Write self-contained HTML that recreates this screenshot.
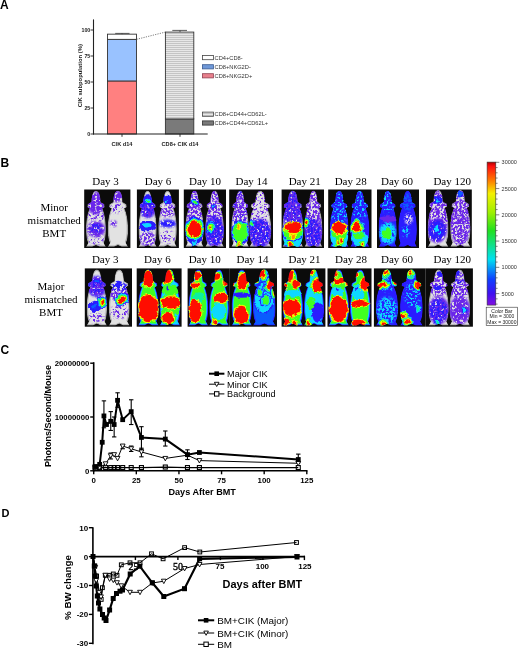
<!DOCTYPE html>
<html><head><meta charset="utf-8"><style>
html,body{margin:0;padding:0;background:#fff;width:520px;height:648px;overflow:hidden}
svg{display:block;will-change:transform}
</style></head><body>
<svg width="520" height="648" viewBox="0 0 520 648">
<defs>
<pattern id="stripes" patternUnits="userSpaceOnUse" width="4" height="2" y="0"><rect width="4" height="2" fill="#c4c4c4"/><rect width="4" height="0.8" fill="#f0f0f0"/></pattern>
<linearGradient id="cbar" x1="0" y1="0" x2="0" y2="1">
<stop offset="0" stop-color="#b00000"/><stop offset="0.03" stop-color="#ff1010"/><stop offset="0.12" stop-color="#ff7000"/><stop offset="0.22" stop-color="#f4f000"/><stop offset="0.35" stop-color="#a0f000"/><stop offset="0.48" stop-color="#20e020"/><stop offset="0.68" stop-color="#00e0f0"/><stop offset="0.82" stop-color="#1040ff"/><stop offset="0.92" stop-color="#4010f0"/><stop offset="1" stop-color="#8010e0"/>
</linearGradient>
<filter id="bl" x="-30%%" y="-30%%" width="160%%" height="160%%"><feGaussianBlur stdDeviation="0.45"/></filter>
<filter id="dsp" x="-30%%" y="-30%%" width="160%%" height="160%%">
<feTurbulence type="fractalNoise" baseFrequency="0.22" numOctaves="2" seed="7" result="t"/>
<feDisplacementMap in="SourceGraphic" in2="t" scale="5" xChannelSelector="R" yChannelSelector="G" result="d"/>
<feGaussianBlur in="d" stdDeviation="0.4"/>
</filter>
<filter id="spk" x="-10%%" y="-10%%" width="120%%" height="120%%">
<feGaussianBlur in="SourceGraphic" stdDeviation="1.2" result="b"/>
<feTurbulence type="fractalNoise" baseFrequency="0.45" numOctaves="2" seed="4" result="n"/>
<feColorMatrix in="n" type="matrix" values="0 0 0 0 0  0 0 0 0 0  0 0 0 0 0  7 0 0 0 -2.9" result="m"/>
<feComposite in="b" in2="m" operator="in"/>
</filter>
<filter id="spk2" x="-10%%" y="-10%%" width="120%%" height="120%%">
<feGaussianBlur in="SourceGraphic" stdDeviation="1.2" result="b"/>
<feTurbulence type="fractalNoise" baseFrequency="0.45" numOctaves="2" seed="9" result="n"/>
<feColorMatrix in="n" type="matrix" values="0 0 0 0 0  0 0 0 0 0  0 0 0 0 0  7 0 0 0 -3.6" result="m"/>
<feComposite in="b" in2="m" operator="in"/>
</filter>
<filter id="spk3" x="-10%%" y="-10%%" width="120%%" height="120%%">
<feGaussianBlur in="SourceGraphic" stdDeviation="1.2" result="b"/>
<feTurbulence type="fractalNoise" baseFrequency="0.4" numOctaves="2" seed="13" result="n"/>
<feColorMatrix in="n" type="matrix" values="0 0 0 0 0  0 0 0 0 0  0 0 0 0 0  7 0 0 0 -2.2" result="m"/>
<feComposite in="b" in2="m" operator="in"/>
</filter>
</defs>
<text x="0.00" y="8.70" font-family="Liberation Sans" font-size="12" font-weight="bold" text-anchor="start" fill="#000" >A</text>
<rect x="107.50" y="80.96" width="29.00" height="53.04" fill="#ff8080" stroke="#333" stroke-width="0.9" />
<rect x="107.50" y="39.36" width="29.00" height="41.60" fill="#99c2ff" stroke="#333" stroke-width="0.9" />
<rect x="107.50" y="34.16" width="29.00" height="5.20" fill="#ffffff" stroke="#333" stroke-width="0.9" />
<line x1="122.00" y1="34.16" x2="122.00" y2="33.40" stroke="#333" stroke-width="0.8" />
<line x1="115.20" y1="33.40" x2="129.50" y2="33.40" stroke="#333" stroke-width="0.8" />
<rect x="165.40" y="118.92" width="28.40" height="15.08" fill="#7a7a7a" stroke="#333" stroke-width="0.9" />
<rect x="165.40" y="32.08" width="28.40" height="86.84" fill="url(#stripes)" stroke="#333" stroke-width="0.9" />
<line x1="180.00" y1="32.08" x2="180.00" y2="30.40" stroke="#333" stroke-width="0.8" />
<line x1="172.30" y1="30.40" x2="187.00" y2="30.40" stroke="#333" stroke-width="0.8" />
<line x1="136.50" y1="39.36" x2="165.40" y2="32.08" stroke="#444" stroke-width="0.7" stroke-dasharray="1.2,1.2"/>
<line x1="93.50" y1="19.40" x2="93.50" y2="134.50" stroke="#222" stroke-width="1.1" />
<line x1="93.00" y1="134.00" x2="207.70" y2="134.00" stroke="#222" stroke-width="1.1" />
<line x1="90.50" y1="134.00" x2="93.50" y2="134.00" stroke="#222" stroke-width="0.9" />
<text x="90.30" y="135.90" font-family="Liberation Sans" font-size="5.3" font-weight="bold" text-anchor="end" fill="#222" >0</text>
<line x1="90.50" y1="108.00" x2="93.50" y2="108.00" stroke="#222" stroke-width="0.9" />
<text x="90.30" y="109.90" font-family="Liberation Sans" font-size="5.3" font-weight="bold" text-anchor="end" fill="#222" >25</text>
<line x1="90.50" y1="82.00" x2="93.50" y2="82.00" stroke="#222" stroke-width="0.9" />
<text x="90.30" y="83.90" font-family="Liberation Sans" font-size="5.3" font-weight="bold" text-anchor="end" fill="#222" >50</text>
<line x1="90.50" y1="56.00" x2="93.50" y2="56.00" stroke="#222" stroke-width="0.9" />
<text x="90.30" y="57.90" font-family="Liberation Sans" font-size="5.3" font-weight="bold" text-anchor="end" fill="#222" >75</text>
<line x1="90.50" y1="30.00" x2="93.50" y2="30.00" stroke="#222" stroke-width="0.9" />
<text x="90.30" y="31.90" font-family="Liberation Sans" font-size="5.3" font-weight="bold" text-anchor="end" fill="#222" >100</text>
<line x1="122.00" y1="134.00" x2="122.00" y2="136.80" stroke="#222" stroke-width="0.9" />
<line x1="180.00" y1="134.00" x2="180.00" y2="136.80" stroke="#222" stroke-width="0.9" />
<text x="122.00" y="145.60" font-family="Liberation Sans" font-size="5.6" font-weight="bold" text-anchor="middle" fill="#222" >CIK d14</text>
<text x="180.00" y="145.60" font-family="Liberation Sans" font-size="5.6" font-weight="bold" text-anchor="middle" fill="#222" >CD8+ CIK d14</text>
<text x="0.00" y="0.00" font-family="Liberation Sans" font-size="5.9" font-weight="bold" text-anchor="middle" fill="#222" transform="translate(81.7,75.7) rotate(-90)">CIK subpopulation (%)</text>
<rect x="202.40" y="55.50" width="11.00" height="4.20" fill="#ffffff" stroke="#444" stroke-width="0.8" />
<text x="214.60" y="59.60" font-family="Liberation Sans" font-size="5.7" font-weight="normal" text-anchor="start" fill="#333" >CD4+CD8-</text>
<rect x="202.40" y="64.70" width="11.00" height="4.20" fill="#6f98d8" stroke="#3a5a90" stroke-width="0.8" />
<text x="214.60" y="68.80" font-family="Liberation Sans" font-size="5.7" font-weight="normal" text-anchor="start" fill="#333" >CD8+NKG2D-</text>
<rect x="202.40" y="73.70" width="11.00" height="4.20" fill="#e8808c" stroke="#904050" stroke-width="0.8" />
<text x="214.60" y="77.80" font-family="Liberation Sans" font-size="5.7" font-weight="normal" text-anchor="start" fill="#333" >CD8+NKG2D+</text>
<rect x="202.40" y="112.10" width="11.00" height="4.20" fill="url(#stripes)" stroke="#444" stroke-width="0.8" />
<text x="214.60" y="116.20" font-family="Liberation Sans" font-size="5.7" font-weight="normal" text-anchor="start" fill="#333" >CD8+CD44+CD62L-</text>
<rect x="202.40" y="120.90" width="11.00" height="4.20" fill="#7a7a7a" stroke="#333" stroke-width="0.8" />
<text x="214.60" y="125.00" font-family="Liberation Sans" font-size="5.7" font-weight="normal" text-anchor="start" fill="#333" >CD8+CD44+CD62L+</text>
<text x="0.50" y="167.30" font-family="Liberation Sans" font-size="12" font-weight="bold" text-anchor="start" fill="#000" >B</text>
<text x="54.20" y="211.20" font-family="Liberation Serif" font-size="11" font-weight="normal" text-anchor="middle" fill="#000" >Minor</text>
<text x="54.20" y="224.20" font-family="Liberation Serif" font-size="11" font-weight="normal" text-anchor="middle" fill="#000" >mismatched</text>
<text x="54.20" y="237.20" font-family="Liberation Serif" font-size="11" font-weight="normal" text-anchor="middle" fill="#000" >BMT</text>
<text x="51.00" y="290.00" font-family="Liberation Serif" font-size="11" font-weight="normal" text-anchor="middle" fill="#000" >Major</text>
<text x="51.00" y="303.00" font-family="Liberation Serif" font-size="11" font-weight="normal" text-anchor="middle" fill="#000" >mismatched</text>
<text x="51.00" y="316.00" font-family="Liberation Serif" font-size="11" font-weight="normal" text-anchor="middle" fill="#000" >BMT</text>
<text x="105.50" y="184.90" font-family="Liberation Serif" font-size="11" font-weight="normal" text-anchor="middle" fill="#000" >Day 3</text>
<rect x="84.20" y="189.50" width="46.20" height="58.50" fill="#0b0b0b"/>
<clipPath id="c000"><path d="M 95.98 190.67 C 99.31 190.67 100.35 196.34 100.55 202.02 L 104.30 204.29 L 104.71 207.13 L 102.22 208.26 C 104.30 212.23 105.96 219.04 105.96 229.26 C 105.96 236.07 105.13 240.61 103.88 242.88 L 105.96 246.85 L 99.72 246.85 L 95.98 245.15 L 92.24 246.85 L 86.00 246.85 L 88.08 242.88 C 86.83 240.61 86.00 236.07 86.00 229.26 C 86.00 219.04 87.66 212.23 89.74 208.26 L 87.25 207.13 L 87.66 204.29 L 91.41 202.02 C 91.62 196.34 92.65 190.67 95.98 190.67 Z"/></clipPath>
<g clip-path="url(#c000)">
<path fill="#a8a8a8" d="M 95.98 190.67 C 99.31 190.67 100.35 196.34 100.55 202.02 L 104.30 204.29 L 104.71 207.13 L 102.22 208.26 C 104.30 212.23 105.96 219.04 105.96 229.26 C 105.96 236.07 105.13 240.61 103.88 242.88 L 105.96 246.85 L 99.72 246.85 L 95.98 245.15 L 92.24 246.85 L 86.00 246.85 L 88.08 242.88 C 86.83 240.61 86.00 236.07 86.00 229.26 C 86.00 219.04 87.66 212.23 89.74 208.26 L 87.25 207.13 L 87.66 204.29 L 91.41 202.02 C 91.62 196.34 92.65 190.67 95.98 190.67 Z"/>
<path fill="#e2e2e2" d="M 95.98 192.07 C 98.86 192.07 99.76 197.46 99.94 202.86 L 103.18 205.02 L 103.54 207.71 L 101.38 208.79 C 103.18 212.57 104.62 219.04 104.62 228.75 C 104.62 235.23 103.90 239.54 102.82 241.70 L 104.62 245.48 L 99.22 245.48 L 95.98 243.86 L 92.74 245.48 L 87.35 245.48 L 89.14 241.70 C 88.07 239.54 87.35 235.23 87.35 228.75 C 87.35 219.04 88.79 212.57 90.58 208.79 L 88.43 207.71 L 88.79 205.02 L 92.02 202.86 C 92.20 197.46 93.10 192.07 95.98 192.07 Z"/>
<ellipse cx="95.98" cy="203.15" rx="8.73" ry="11.35" fill="#6a28ea" filter="url(#spk3)"/>
<ellipse cx="95.98" cy="229.26" rx="9.36" ry="7.94" fill="#6a28ea" filter="url(#spk3)"/>
<ellipse cx="95.98" cy="228.12" rx="6.24" ry="4.54" fill="#2a1cff" filter="url(#spk)"/>
<ellipse cx="95.98" cy="216.21" rx="9.36" ry="5.67" fill="#6a28ea" filter="url(#spk2)"/>
<ellipse cx="95.98" cy="238.90" rx="8.32" ry="5.67" fill="#6a28ea" filter="url(#spk2)"/>
</g>
<clipPath id="c001"><path d="M 117.93 190.67 C 121.33 190.67 122.39 196.34 122.60 202.02 L 126.43 204.29 L 126.85 207.13 L 124.30 208.26 C 126.43 212.23 128.13 219.04 128.13 229.26 C 128.13 236.07 127.28 240.61 126.00 242.88 L 128.13 246.85 L 121.75 246.85 L 117.93 245.15 L 114.10 246.85 L 107.73 246.85 L 109.85 242.88 C 108.58 240.61 107.73 236.07 107.73 229.26 C 107.73 219.04 109.43 212.23 111.55 208.26 L 109.00 207.13 L 109.43 204.29 L 113.25 202.02 C 113.46 196.34 114.53 190.67 117.93 190.67 Z"/></clipPath>
<g clip-path="url(#c001)">
<path fill="#a8a8a8" d="M 117.93 190.67 C 121.33 190.67 122.39 196.34 122.60 202.02 L 126.43 204.29 L 126.85 207.13 L 124.30 208.26 C 126.43 212.23 128.13 219.04 128.13 229.26 C 128.13 236.07 127.28 240.61 126.00 242.88 L 128.13 246.85 L 121.75 246.85 L 117.93 245.15 L 114.10 246.85 L 107.73 246.85 L 109.85 242.88 C 108.58 240.61 107.73 236.07 107.73 229.26 C 107.73 219.04 109.43 212.23 111.55 208.26 L 109.00 207.13 L 109.43 204.29 L 113.25 202.02 C 113.46 196.34 114.53 190.67 117.93 190.67 Z"/>
<path fill="#e2e2e2" d="M 117.93 192.07 C 120.88 192.07 121.80 197.46 121.99 202.86 L 125.31 205.02 L 125.68 207.71 L 123.46 208.79 C 125.31 212.57 126.78 219.04 126.78 228.75 C 126.78 235.23 126.04 239.54 124.94 241.70 L 126.78 245.48 L 121.25 245.48 L 117.93 243.86 L 114.60 245.48 L 109.07 245.48 L 110.91 241.70 C 109.81 239.54 109.07 235.23 109.07 228.75 C 109.07 219.04 110.55 212.57 112.39 208.79 L 110.18 207.71 L 110.55 205.02 L 113.87 202.86 C 114.05 197.46 114.97 192.07 117.93 192.07 Z"/>
<ellipse cx="116.86" cy="196.34" rx="6.38" ry="5.67" fill="#6a28ea" filter="url(#spk3)"/>
<ellipse cx="115.80" cy="207.69" rx="7.44" ry="5.67" fill="#6a28ea" filter="url(#spk2)"/>
<ellipse cx="113.68" cy="223.58" rx="3.19" ry="3.40" fill="#6a28ea" filter="url(#spk)"/>
</g>
<text x="158.00" y="184.90" font-family="Liberation Serif" font-size="11" font-weight="normal" text-anchor="middle" fill="#000" >Day 6</text>
<rect x="136.90" y="189.50" width="42.00" height="58.50" fill="#0b0b0b"/>
<clipPath id="c010"><path d="M 147.61 190.67 C 150.63 190.67 151.58 196.34 151.77 202.02 L 155.17 204.29 L 155.55 207.13 L 153.28 208.26 C 155.17 212.23 156.68 219.04 156.68 229.26 C 156.68 236.07 155.93 240.61 154.79 242.88 L 156.68 246.85 L 151.01 246.85 L 147.61 245.15 L 144.21 246.85 L 138.54 246.85 L 140.43 242.88 C 139.29 240.61 138.54 236.07 138.54 229.26 C 138.54 219.04 140.05 212.23 141.94 208.26 L 139.67 207.13 L 140.05 204.29 L 143.45 202.02 C 143.64 196.34 144.59 190.67 147.61 190.67 Z"/></clipPath>
<g clip-path="url(#c010)">
<path fill="#a8a8a8" d="M 147.61 190.67 C 150.63 190.67 151.58 196.34 151.77 202.02 L 155.17 204.29 L 155.55 207.13 L 153.28 208.26 C 155.17 212.23 156.68 219.04 156.68 229.26 C 156.68 236.07 155.93 240.61 154.79 242.88 L 156.68 246.85 L 151.01 246.85 L 147.61 245.15 L 144.21 246.85 L 138.54 246.85 L 140.43 242.88 C 139.29 240.61 138.54 236.07 138.54 229.26 C 138.54 219.04 140.05 212.23 141.94 208.26 L 139.67 207.13 L 140.05 204.29 L 143.45 202.02 C 143.64 196.34 144.59 190.67 147.61 190.67 Z"/>
<path fill="#e2e2e2" d="M 147.61 192.07 C 150.19 192.07 150.99 197.46 151.15 202.86 L 154.05 205.02 L 154.37 207.71 L 152.44 208.79 C 154.05 212.57 155.34 219.04 155.34 228.75 C 155.34 235.23 154.69 239.54 153.73 241.70 L 155.34 245.48 L 150.51 245.48 L 147.61 243.86 L 144.71 245.48 L 139.88 245.48 L 141.49 241.70 C 140.53 239.54 139.88 235.23 139.88 228.75 C 139.88 219.04 141.17 212.57 142.78 208.79 L 140.85 207.71 L 141.17 205.02 L 144.07 202.86 C 144.23 197.46 145.03 192.07 147.61 192.07 Z"/>
<ellipse cx="147.61" cy="206.56" rx="8.50" ry="11.35" fill="#2a1cff" filter="url(#spk3)"/>
<ellipse cx="147.61" cy="206.56" rx="8.50" ry="11.35" fill="#6a28ea" filter="url(#spk)"/>
<ellipse cx="147.61" cy="238.90" rx="8.50" ry="7.38" fill="#6a28ea" filter="url(#spk)"/>
<g filter="url(#dsp)"><g><ellipse cx="147.61" cy="225.85" rx="8.32" ry="5.67" fill="#2a1cff"/></g></g>
<g filter="url(#dsp)"><g><ellipse cx="146.66" cy="225.28" rx="4.78" ry="3.27" fill="#2a1cff"/><ellipse cx="146.66" cy="225.28" rx="3.78" ry="2.27" fill="#10d8ff"/></g></g>
<g filter="url(#dsp)"><g><ellipse cx="147.61" cy="200.32" rx="5.29" ry="5.11" fill="#2a1cff"/></g></g>
<g filter="url(#dsp)"><g><ellipse cx="147.61" cy="200.88" rx="3.89" ry="3.13" fill="#2a1cff"/><ellipse cx="147.61" cy="200.88" rx="2.89" ry="2.13" fill="#10d8ff"/><ellipse cx="147.61" cy="200.88" rx="1.89" ry="1.13" fill="#40ff20"/></g></g>
</g>
<clipPath id="c011"><path d="M 167.56 190.67 C 170.65 190.67 171.62 196.34 171.81 202.02 L 175.29 204.29 L 175.67 207.13 L 173.36 208.26 C 175.29 212.23 176.83 219.04 176.83 229.26 C 176.83 236.07 176.06 240.61 174.90 242.88 L 176.83 246.85 L 171.04 246.85 L 167.56 245.15 L 164.08 246.85 L 158.29 246.85 L 160.22 242.88 C 159.06 240.61 158.29 236.07 158.29 229.26 C 158.29 219.04 159.83 212.23 161.76 208.26 L 159.45 207.13 L 159.83 204.29 L 163.31 202.02 C 163.50 196.34 164.47 190.67 167.56 190.67 Z"/></clipPath>
<g clip-path="url(#c011)">
<path fill="#a8a8a8" d="M 167.56 190.67 C 170.65 190.67 171.62 196.34 171.81 202.02 L 175.29 204.29 L 175.67 207.13 L 173.36 208.26 C 175.29 212.23 176.83 219.04 176.83 229.26 C 176.83 236.07 176.06 240.61 174.90 242.88 L 176.83 246.85 L 171.04 246.85 L 167.56 245.15 L 164.08 246.85 L 158.29 246.85 L 160.22 242.88 C 159.06 240.61 158.29 236.07 158.29 229.26 C 158.29 219.04 159.83 212.23 161.76 208.26 L 159.45 207.13 L 159.83 204.29 L 163.31 202.02 C 163.50 196.34 164.47 190.67 167.56 190.67 Z"/>
<path fill="#e2e2e2" d="M 167.56 192.07 C 170.20 192.07 171.03 197.46 171.19 202.86 L 174.17 205.02 L 174.50 207.71 L 172.52 208.79 C 174.17 212.57 175.49 219.04 175.49 228.75 C 175.49 235.23 174.83 239.54 173.84 241.70 L 175.49 245.48 L 170.53 245.48 L 167.56 243.86 L 164.59 245.48 L 159.63 245.48 L 161.28 241.70 C 160.29 239.54 159.63 235.23 159.63 228.75 C 159.63 219.04 160.95 212.57 162.60 208.79 L 160.62 207.71 L 160.95 205.02 L 163.93 202.86 C 164.09 197.46 164.92 192.07 167.56 192.07 Z"/>
<ellipse cx="167.56" cy="210.53" rx="8.69" ry="6.81" fill="#6a28ea" filter="url(#spk)"/>
<ellipse cx="167.56" cy="223.58" rx="8.69" ry="3.97" fill="#2a1cff" filter="url(#spk3)"/>
<ellipse cx="167.56" cy="237.20" rx="7.73" ry="6.81" fill="#6a28ea" filter="url(#spk2)"/>
<g filter="url(#dsp)"><g><ellipse cx="167.56" cy="199.18" rx="4.83" ry="4.54" fill="#2a1cff"/></g></g>
<g filter="url(#dsp)"><g><ellipse cx="166.59" cy="200.88" rx="2.16" ry="2.13" fill="#2a1cff"/><ellipse cx="166.59" cy="200.88" rx="1.16" ry="1.13" fill="#10d8ff"/></g></g>
</g>
<text x="205.00" y="184.90" font-family="Liberation Serif" font-size="11" font-weight="normal" text-anchor="middle" fill="#000" >Day 10</text>
<rect x="183.80" y="189.50" width="42.20" height="58.50" fill="#0b0b0b"/>
<clipPath id="c020"><path d="M 194.56 190.67 C 197.60 190.67 198.55 196.34 198.74 202.02 L 202.16 204.29 L 202.54 207.13 L 200.26 208.26 C 202.16 212.23 203.68 219.04 203.68 229.26 C 203.68 236.07 202.92 240.61 201.78 242.88 L 203.68 246.85 L 197.98 246.85 L 194.56 245.15 L 191.14 246.85 L 185.45 246.85 L 187.34 242.88 C 186.21 240.61 185.45 236.07 185.45 229.26 C 185.45 219.04 186.97 212.23 188.86 208.26 L 186.59 207.13 L 186.97 204.29 L 190.38 202.02 C 190.57 196.34 191.52 190.67 194.56 190.67 Z"/></clipPath>
<g clip-path="url(#c020)">
<path fill="#a8a8a8" d="M 194.56 190.67 C 197.60 190.67 198.55 196.34 198.74 202.02 L 202.16 204.29 L 202.54 207.13 L 200.26 208.26 C 202.16 212.23 203.68 219.04 203.68 229.26 C 203.68 236.07 202.92 240.61 201.78 242.88 L 203.68 246.85 L 197.98 246.85 L 194.56 245.15 L 191.14 246.85 L 185.45 246.85 L 187.34 242.88 C 186.21 240.61 185.45 236.07 185.45 229.26 C 185.45 219.04 186.97 212.23 188.86 208.26 L 186.59 207.13 L 186.97 204.29 L 190.38 202.02 C 190.57 196.34 191.52 190.67 194.56 190.67 Z"/>
<path fill="#e2e2e2" d="M 194.56 192.07 C 197.15 192.07 197.96 197.46 198.12 202.86 L 201.04 205.02 L 201.36 207.71 L 199.42 208.79 C 201.04 212.57 202.33 219.04 202.33 228.75 C 202.33 235.23 201.68 239.54 200.71 241.70 L 202.33 245.48 L 197.48 245.48 L 194.56 243.86 L 191.65 245.48 L 186.79 245.48 L 188.41 241.70 C 187.44 239.54 186.79 235.23 186.79 228.75 C 186.79 219.04 188.09 212.57 189.70 208.79 L 187.76 207.71 L 188.09 205.02 L 191.00 202.86 C 191.16 197.46 191.97 192.07 194.56 192.07 Z"/>
<ellipse cx="194.56" cy="207.69" rx="9.49" ry="18.16" fill="#6a28ea" filter="url(#spk)"/>
<ellipse cx="194.56" cy="202.02" rx="5.70" ry="5.67" fill="#2a1cff" filter="url(#spk2)"/>
<g filter="url(#dsp)"><g><ellipse cx="194.56" cy="202.02" rx="3.80" ry="2.84" fill="#2a1cff"/></g></g>
<g filter="url(#dsp)"><g><ellipse cx="194.56" cy="202.02" rx="3.90" ry="3.13" fill="#2a1cff"/><ellipse cx="194.56" cy="202.02" rx="2.90" ry="2.13" fill="#10d8ff"/><ellipse cx="194.56" cy="202.02" rx="1.90" ry="1.13" fill="#40ff20"/></g></g>
<g filter="url(#dsp)"><g><ellipse cx="194.56" cy="230.39" rx="9.49" ry="14.19" fill="#2a1cff"/></g></g>
<g filter="url(#dsp)"><g><ellipse cx="194.56" cy="241.74" rx="3.28" ry="5.54" fill="#2a1cff"/><ellipse cx="194.56" cy="241.74" rx="2.28" ry="4.54" fill="#10d8ff"/></g></g>
<g filter="url(#dsp)"><g><ellipse cx="194.56" cy="229.26" rx="10.84" ry="11.94" fill="#2a1cff"/><ellipse cx="194.56" cy="229.26" rx="9.84" ry="10.94" fill="#10d8ff"/><ellipse cx="194.56" cy="229.26" rx="8.84" ry="9.94" fill="#40ff20"/><ellipse cx="194.56" cy="229.26" rx="7.84" ry="8.94" fill="#f0ff00"/><ellipse cx="194.56" cy="229.26" rx="6.84" ry="7.94" fill="#ff1000"/></g></g>
</g>
<clipPath id="c021"><path d="M 214.61 190.67 C 217.71 190.67 218.68 196.34 218.88 202.02 L 222.37 204.29 L 222.76 207.13 L 220.43 208.26 C 222.37 212.23 223.92 219.04 223.92 229.26 C 223.92 236.07 223.15 240.61 221.98 242.88 L 223.92 246.85 L 218.10 246.85 L 214.61 245.15 L 211.11 246.85 L 205.29 246.85 L 207.23 242.88 C 206.06 240.61 205.29 236.07 205.29 229.26 C 205.29 219.04 206.84 212.23 208.78 208.26 L 206.45 207.13 L 206.84 204.29 L 210.34 202.02 C 210.53 196.34 211.50 190.67 214.61 190.67 Z"/></clipPath>
<g clip-path="url(#c021)">
<path fill="#a8a8a8" d="M 214.61 190.67 C 217.71 190.67 218.68 196.34 218.88 202.02 L 222.37 204.29 L 222.76 207.13 L 220.43 208.26 C 222.37 212.23 223.92 219.04 223.92 229.26 C 223.92 236.07 223.15 240.61 221.98 242.88 L 223.92 246.85 L 218.10 246.85 L 214.61 245.15 L 211.11 246.85 L 205.29 246.85 L 207.23 242.88 C 206.06 240.61 205.29 236.07 205.29 229.26 C 205.29 219.04 206.84 212.23 208.78 208.26 L 206.45 207.13 L 206.84 204.29 L 210.34 202.02 C 210.53 196.34 211.50 190.67 214.61 190.67 Z"/>
<path fill="#e2e2e2" d="M 214.61 192.07 C 217.26 192.07 218.09 197.46 218.26 202.86 L 221.25 205.02 L 221.58 207.71 L 219.59 208.79 C 221.25 212.57 222.58 219.04 222.58 228.75 C 222.58 235.23 221.92 239.54 220.92 241.70 L 222.58 245.48 L 217.60 245.48 L 214.61 243.86 L 211.62 245.48 L 206.63 245.48 L 208.29 241.70 C 207.30 239.54 206.63 235.23 206.63 228.75 C 206.63 219.04 207.96 212.57 209.62 208.79 L 207.63 207.71 L 207.96 205.02 L 210.95 202.86 C 211.12 197.46 211.95 192.07 214.61 192.07 Z"/>
<ellipse cx="214.61" cy="207.69" rx="9.71" ry="18.16" fill="#6a28ea" filter="url(#spk)"/>
<ellipse cx="214.61" cy="231.53" rx="9.71" ry="15.32" fill="#6a28ea" filter="url(#spk3)"/>
<ellipse cx="214.61" cy="231.53" rx="9.71" ry="15.32" fill="#2a1cff" filter="url(#spk)"/>
<g filter="url(#dsp)"><g><ellipse cx="213.64" cy="206.56" rx="2.16" ry="2.13" fill="#2a1cff"/><ellipse cx="213.64" cy="206.56" rx="1.16" ry="1.13" fill="#10d8ff"/></g></g>
<g filter="url(#dsp)"><g><ellipse cx="210.72" cy="226.99" rx="5.33" ry="6.97" fill="#2a1cff"/><ellipse cx="210.72" cy="226.99" rx="4.33" ry="5.97" fill="#10d8ff"/><ellipse cx="210.72" cy="226.99" rx="3.33" ry="4.97" fill="#40ff20"/><ellipse cx="210.72" cy="226.99" rx="2.33" ry="3.97" fill="#f0ff00"/></g></g>
<g filter="url(#dsp)"><g><ellipse cx="210.34" cy="227.55" rx="4.97" ry="5.70" fill="#2a1cff"/><ellipse cx="210.34" cy="227.55" rx="3.97" ry="4.70" fill="#10d8ff"/><ellipse cx="210.34" cy="227.55" rx="2.97" ry="3.70" fill="#40ff20"/><ellipse cx="210.34" cy="227.55" rx="1.97" ry="2.70" fill="#f0ff00"/><ellipse cx="210.34" cy="227.55" rx="0.97" ry="1.70" fill="#ff1000"/></g></g>
</g>
<text x="251.50" y="184.90" font-family="Liberation Serif" font-size="11" font-weight="normal" text-anchor="middle" fill="#000" >Day 14</text>
<rect x="229.20" y="189.50" width="43.80" height="58.50" fill="#0b0b0b"/>
<clipPath id="c030"><path d="M 240.15 190.67 C 243.09 190.67 244.01 196.34 244.20 202.02 L 247.51 204.29 L 247.88 207.13 L 245.67 208.26 C 247.51 212.23 248.98 219.04 248.98 229.26 C 248.98 236.07 248.24 240.61 247.14 242.88 L 248.98 246.85 L 243.46 246.85 L 240.15 245.15 L 236.84 246.85 L 231.32 246.85 L 233.16 242.88 C 232.06 240.61 231.32 236.07 231.32 229.26 C 231.32 219.04 232.79 212.23 234.63 208.26 L 232.42 207.13 L 232.79 204.29 L 236.10 202.02 C 236.29 196.34 237.21 190.67 240.15 190.67 Z"/></clipPath>
<g clip-path="url(#c030)">
<path fill="#a8a8a8" d="M 240.15 190.67 C 243.09 190.67 244.01 196.34 244.20 202.02 L 247.51 204.29 L 247.88 207.13 L 245.67 208.26 C 247.51 212.23 248.98 219.04 248.98 229.26 C 248.98 236.07 248.24 240.61 247.14 242.88 L 248.98 246.85 L 243.46 246.85 L 240.15 245.15 L 236.84 246.85 L 231.32 246.85 L 233.16 242.88 C 232.06 240.61 231.32 236.07 231.32 229.26 C 231.32 219.04 232.79 212.23 234.63 208.26 L 232.42 207.13 L 232.79 204.29 L 236.10 202.02 C 236.29 196.34 237.21 190.67 240.15 190.67 Z"/>
<path fill="#e2e2e2" d="M 240.15 192.07 C 242.65 192.07 243.43 197.46 243.58 202.86 L 246.39 205.02 L 246.70 207.71 L 244.83 208.79 C 246.39 212.57 247.64 219.04 247.64 228.75 C 247.64 235.23 247.01 239.54 246.08 241.70 L 247.64 245.48 L 242.96 245.48 L 240.15 243.86 L 237.34 245.48 L 232.66 245.48 L 234.22 241.70 C 233.29 239.54 232.66 235.23 232.66 228.75 C 232.66 219.04 233.91 212.57 235.47 208.79 L 233.60 207.71 L 233.91 205.02 L 236.72 202.86 C 236.87 197.46 237.65 192.07 240.15 192.07 Z"/>
<ellipse cx="240.15" cy="210.53" rx="9.20" ry="19.86" fill="#2a1cff" filter="url(#spk2)"/>
<ellipse cx="240.15" cy="207.69" rx="9.20" ry="17.02" fill="#6a28ea" filter="url(#spk)"/>
<g filter="url(#dsp)"><g><ellipse cx="240.15" cy="232.66" rx="9.20" ry="12.48" fill="#2a1cff"/></g></g>
<g filter="url(#dsp)"><g><ellipse cx="240.15" cy="232.09" rx="9.73" ry="11.65" fill="#2a1cff"/><ellipse cx="240.15" cy="232.09" rx="8.73" ry="10.65" fill="#10d8ff"/><ellipse cx="240.15" cy="232.09" rx="7.73" ry="9.65" fill="#40ff20"/></g></g>
<g filter="url(#dsp)"><g><ellipse cx="239.23" cy="226.99" rx="2.10" ry="2.70" fill="#f0ff00"/><ellipse cx="239.23" cy="226.99" rx="1.10" ry="1.70" fill="#ff9000"/></g></g>
<g filter="url(#dsp)"><g><ellipse cx="239.23" cy="243.44" rx="2.92" ry="3.70" fill="#40ff20"/><ellipse cx="239.23" cy="243.44" rx="1.92" ry="2.70" fill="#f0ff00"/><ellipse cx="239.23" cy="243.44" rx="0.92" ry="1.70" fill="#ff9000"/></g></g>
</g>
<clipPath id="c031"><path d="M 260.30 190.67 C 263.94 190.67 265.08 196.34 265.31 202.02 L 269.41 204.29 L 269.86 207.13 L 267.13 208.26 C 269.41 212.23 271.23 219.04 271.23 229.26 C 271.23 236.07 270.32 240.61 268.95 242.88 L 271.23 246.85 L 264.40 246.85 L 260.30 245.15 L 256.20 246.85 L 249.37 246.85 L 251.64 242.88 C 250.28 240.61 249.37 236.07 249.37 229.26 C 249.37 219.04 251.19 212.23 253.47 208.26 L 250.73 207.13 L 251.19 204.29 L 255.29 202.02 C 255.52 196.34 256.65 190.67 260.30 190.67 Z"/></clipPath>
<g clip-path="url(#c031)">
<path fill="#a8a8a8" d="M 260.30 190.67 C 263.94 190.67 265.08 196.34 265.31 202.02 L 269.41 204.29 L 269.86 207.13 L 267.13 208.26 C 269.41 212.23 271.23 219.04 271.23 229.26 C 271.23 236.07 270.32 240.61 268.95 242.88 L 271.23 246.85 L 264.40 246.85 L 260.30 245.15 L 256.20 246.85 L 249.37 246.85 L 251.64 242.88 C 250.28 240.61 249.37 236.07 249.37 229.26 C 249.37 219.04 251.19 212.23 253.47 208.26 L 250.73 207.13 L 251.19 204.29 L 255.29 202.02 C 255.52 196.34 256.65 190.67 260.30 190.67 Z"/>
<path fill="#e2e2e2" d="M 260.30 192.07 C 263.49 192.07 264.49 197.46 264.69 202.86 L 268.29 205.02 L 268.69 207.71 L 266.29 208.79 C 268.29 212.57 269.89 219.04 269.89 228.75 C 269.89 235.23 269.09 239.54 267.89 241.70 L 269.89 245.48 L 263.89 245.48 L 260.30 243.86 L 256.70 245.48 L 250.71 245.48 L 252.71 241.70 C 251.51 239.54 250.71 235.23 250.71 228.75 C 250.71 219.04 252.31 212.57 254.31 208.79 L 251.91 207.71 L 252.31 205.02 L 255.90 202.86 C 256.10 197.46 257.10 192.07 260.30 192.07 Z"/>
<ellipse cx="260.30" cy="207.69" rx="11.39" ry="17.02" fill="#6a28ea" filter="url(#spk2)"/>
<ellipse cx="260.30" cy="233.23" rx="11.39" ry="14.19" fill="#6a28ea" filter="url(#spk3)"/>
<ellipse cx="260.30" cy="233.23" rx="11.39" ry="14.19" fill="#2a1cff" filter="url(#spk)"/>
<g filter="url(#dsp)"><g><ellipse cx="251.64" cy="223.58" rx="2.28" ry="3.97" fill="#2a1cff"/></g></g>
<g filter="url(#dsp)"><g><ellipse cx="251.64" cy="223.58" rx="3.37" ry="4.27" fill="#2a1cff"/><ellipse cx="251.64" cy="223.58" rx="2.37" ry="3.27" fill="#10d8ff"/><ellipse cx="251.64" cy="223.58" rx="1.37" ry="2.27" fill="#40ff20"/></g></g>
</g>
<text x="304.70" y="184.90" font-family="Liberation Serif" font-size="11" font-weight="normal" text-anchor="middle" fill="#000" >Day 21</text>
<rect x="281.60" y="189.50" width="42.40" height="58.50" fill="#0b0b0b"/>
<clipPath id="c040"><path d="M 292.84 190.67 C 296.30 190.67 297.38 196.34 297.59 202.02 L 301.49 204.29 L 301.92 207.13 L 299.32 208.26 C 301.49 212.23 303.22 219.04 303.22 229.26 C 303.22 236.07 302.35 240.61 301.05 242.88 L 303.22 246.85 L 296.73 246.85 L 292.84 245.15 L 288.94 246.85 L 282.46 246.85 L 284.62 242.88 C 283.32 240.61 282.46 236.07 282.46 229.26 C 282.46 219.04 284.19 212.23 286.35 208.26 L 283.75 207.13 L 284.19 204.29 L 288.08 202.02 C 288.29 196.34 289.38 190.67 292.84 190.67 Z"/></clipPath>
<g clip-path="url(#c040)">
<path fill="#a8a8a8" d="M 292.84 190.67 C 296.30 190.67 297.38 196.34 297.59 202.02 L 301.49 204.29 L 301.92 207.13 L 299.32 208.26 C 301.49 212.23 303.22 219.04 303.22 229.26 C 303.22 236.07 302.35 240.61 301.05 242.88 L 303.22 246.85 L 296.73 246.85 L 292.84 245.15 L 288.94 246.85 L 282.46 246.85 L 284.62 242.88 C 283.32 240.61 282.46 236.07 282.46 229.26 C 282.46 219.04 284.19 212.23 286.35 208.26 L 283.75 207.13 L 284.19 204.29 L 288.08 202.02 C 288.29 196.34 289.38 190.67 292.84 190.67 Z"/>
<path fill="#e2e2e2" d="M 292.84 192.07 C 295.85 192.07 296.79 197.46 296.98 202.86 L 300.37 205.02 L 300.74 207.71 L 298.48 208.79 C 300.37 212.57 301.87 219.04 301.87 228.75 C 301.87 235.23 301.12 239.54 299.99 241.70 L 301.87 245.48 L 296.22 245.48 L 292.84 243.86 L 289.45 245.48 L 283.80 245.48 L 285.68 241.70 C 284.55 239.54 283.80 235.23 283.80 228.75 C 283.80 219.04 285.31 212.57 287.19 208.79 L 284.93 207.71 L 285.31 205.02 L 288.69 202.86 C 288.88 197.46 289.82 192.07 292.84 192.07 Z"/>
<ellipse cx="292.84" cy="210.53" rx="10.81" ry="19.86" fill="#2a1cff" filter="url(#spk3)"/>
<ellipse cx="292.84" cy="210.53" rx="10.81" ry="19.86" fill="#6a28ea" filter="url(#spk)"/>
<g filter="url(#dsp)"><g><ellipse cx="292.84" cy="236.07" rx="11.81" ry="13.48" fill="#2a1cff"/><ellipse cx="292.84" cy="236.07" rx="10.81" ry="12.48" fill="#10d8ff"/></g></g>
<g filter="url(#dsp)"><g><ellipse cx="292.84" cy="231.53" rx="11.95" ry="9.94" fill="#2a1cff"/><ellipse cx="292.84" cy="231.53" rx="10.95" ry="8.94" fill="#10d8ff"/><ellipse cx="292.84" cy="231.53" rx="9.95" ry="7.94" fill="#40ff20"/></g></g>
<g filter="url(#dsp)"><g><ellipse cx="292.84" cy="227.55" rx="9.22" ry="6.67" fill="#f0ff00"/><ellipse cx="292.84" cy="227.55" rx="8.22" ry="5.67" fill="#ff1000"/></g></g>
<g filter="url(#dsp)"><g><ellipse cx="292.84" cy="236.07" rx="3.16" ry="3.27" fill="#f0ff00"/><ellipse cx="292.84" cy="236.07" rx="2.16" ry="2.27" fill="#ff9000"/></g></g>
<g filter="url(#dsp)"><g><ellipse cx="290.67" cy="244.58" rx="3.08" ry="3.70" fill="#40ff20"/><ellipse cx="290.67" cy="244.58" rx="2.08" ry="2.70" fill="#f0ff00"/><ellipse cx="290.67" cy="244.58" rx="1.08" ry="1.70" fill="#ff1000"/></g></g>
</g>
<clipPath id="c041"><path d="M 313.40 190.67 C 316.38 190.67 317.32 196.34 317.50 202.02 L 320.86 204.29 L 321.24 207.13 L 319.00 208.26 C 320.86 212.23 322.35 219.04 322.35 229.26 C 322.35 236.07 321.61 240.61 320.49 242.88 L 322.35 246.85 L 316.76 246.85 L 313.40 245.15 L 310.04 246.85 L 304.45 246.85 L 306.31 242.88 C 305.19 240.61 304.45 236.07 304.45 229.26 C 304.45 219.04 305.94 212.23 307.80 208.26 L 305.56 207.13 L 305.94 204.29 L 309.30 202.02 C 309.48 196.34 310.42 190.67 313.40 190.67 Z"/></clipPath>
<g clip-path="url(#c041)">
<path fill="#a8a8a8" d="M 313.40 190.67 C 316.38 190.67 317.32 196.34 317.50 202.02 L 320.86 204.29 L 321.24 207.13 L 319.00 208.26 C 320.86 212.23 322.35 219.04 322.35 229.26 C 322.35 236.07 321.61 240.61 320.49 242.88 L 322.35 246.85 L 316.76 246.85 L 313.40 245.15 L 310.04 246.85 L 304.45 246.85 L 306.31 242.88 C 305.19 240.61 304.45 236.07 304.45 229.26 C 304.45 219.04 305.94 212.23 307.80 208.26 L 305.56 207.13 L 305.94 204.29 L 309.30 202.02 C 309.48 196.34 310.42 190.67 313.40 190.67 Z"/>
<path fill="#e2e2e2" d="M 313.40 192.07 C 315.94 192.07 316.73 197.46 316.89 202.86 L 319.74 205.02 L 320.06 207.71 L 318.16 208.79 C 319.74 212.57 321.01 219.04 321.01 228.75 C 321.01 235.23 320.38 239.54 319.43 241.70 L 321.01 245.48 L 316.25 245.48 L 313.40 243.86 L 310.55 245.48 L 305.79 245.48 L 307.37 241.70 C 306.42 239.54 305.79 235.23 305.79 228.75 C 305.79 219.04 307.06 212.57 308.64 208.79 L 306.74 207.71 L 307.06 205.02 L 309.91 202.86 C 310.07 197.46 310.86 192.07 313.40 192.07 Z"/>
<ellipse cx="313.40" cy="210.53" rx="9.33" ry="19.86" fill="#6a28ea" filter="url(#spk)"/>
<ellipse cx="313.40" cy="233.23" rx="9.33" ry="14.19" fill="#6a28ea" filter="url(#spk3)"/>
<ellipse cx="313.40" cy="233.23" rx="9.33" ry="14.19" fill="#2a1cff" filter="url(#spk)"/>
<g filter="url(#dsp)"><g><ellipse cx="305.56" cy="222.45" rx="3.87" ry="4.84" fill="#2a1cff"/><ellipse cx="305.56" cy="222.45" rx="2.87" ry="3.84" fill="#10d8ff"/><ellipse cx="305.56" cy="222.45" rx="1.87" ry="2.84" fill="#40ff20"/></g></g>
<g filter="url(#dsp)"><g><ellipse cx="305.56" cy="222.45" rx="5.12" ry="5.70" fill="#2a1cff"/><ellipse cx="305.56" cy="222.45" rx="4.12" ry="4.70" fill="#10d8ff"/><ellipse cx="305.56" cy="222.45" rx="3.12" ry="3.70" fill="#40ff20"/><ellipse cx="305.56" cy="222.45" rx="2.12" ry="2.70" fill="#f0ff00"/><ellipse cx="305.56" cy="222.45" rx="1.12" ry="1.70" fill="#ff1000"/></g></g>
</g>
<text x="350.70" y="184.90" font-family="Liberation Serif" font-size="11" font-weight="normal" text-anchor="middle" fill="#000" >Day 28</text>
<rect x="328.20" y="189.50" width="43.30" height="58.50" fill="#0b0b0b"/>
<clipPath id="c050"><path d="M 339.24 190.67 C 342.36 190.67 343.33 196.34 343.53 202.02 L 347.04 204.29 L 347.43 207.13 L 345.09 208.26 C 347.04 212.23 348.59 219.04 348.59 229.26 C 348.59 236.07 347.81 240.61 346.65 242.88 L 348.59 246.85 L 342.75 246.85 L 339.24 245.15 L 335.73 246.85 L 329.89 246.85 L 331.84 242.88 C 330.67 240.61 329.89 236.07 329.89 229.26 C 329.89 219.04 331.45 212.23 333.40 208.26 L 331.06 207.13 L 331.45 204.29 L 334.95 202.02 C 335.15 196.34 336.12 190.67 339.24 190.67 Z"/></clipPath>
<g clip-path="url(#c050)">
<path fill="#2a1cff" d="M 339.24 190.67 C 342.36 190.67 343.33 196.34 343.53 202.02 L 347.04 204.29 L 347.43 207.13 L 345.09 208.26 C 347.04 212.23 348.59 219.04 348.59 229.26 C 348.59 236.07 347.81 240.61 346.65 242.88 L 348.59 246.85 L 342.75 246.85 L 339.24 245.15 L 335.73 246.85 L 329.89 246.85 L 331.84 242.88 C 330.67 240.61 329.89 236.07 329.89 229.26 C 329.89 219.04 331.45 212.23 333.40 208.26 L 331.06 207.13 L 331.45 204.29 L 334.95 202.02 C 335.15 196.34 336.12 190.67 339.24 190.67 Z"/>
<ellipse cx="339.24" cy="207.69" rx="9.74" ry="17.02" fill="#10d8ff" filter="url(#spk2)"/>
<g filter="url(#dsp)"><g><ellipse cx="339.24" cy="238.90" rx="9.74" ry="8.51" fill="#10d8ff"/></g></g>
<g filter="url(#dsp)"><g><ellipse cx="339.24" cy="232.66" rx="8.79" ry="7.81" fill="#10d8ff"/><ellipse cx="339.24" cy="232.66" rx="7.79" ry="6.81" fill="#40ff20"/></g></g>
<g filter="url(#dsp)"><g><ellipse cx="339.24" cy="228.12" rx="8.01" ry="7.24" fill="#f0ff00"/><ellipse cx="339.24" cy="228.12" rx="7.01" ry="6.24" fill="#ff1000"/></g></g>
<g filter="url(#dsp)"><g><ellipse cx="338.27" cy="242.88" rx="2.78" ry="4.27" fill="#40ff20"/><ellipse cx="338.27" cy="242.88" rx="1.78" ry="3.27" fill="#f0ff00"/><ellipse cx="338.27" cy="242.88" rx="0.78" ry="2.27" fill="#ff1000"/></g></g>
<g filter="url(#dsp)"><g><ellipse cx="341.19" cy="240.61" rx="2.97" ry="4.27" fill="#40ff20"/><ellipse cx="341.19" cy="240.61" rx="1.97" ry="3.27" fill="#f0ff00"/><ellipse cx="341.19" cy="240.61" rx="0.97" ry="2.27" fill="#ff1000"/></g></g>
</g>
<clipPath id="c051"><path d="M 359.81 190.67 C 363.00 190.67 363.99 196.34 364.19 202.02 L 367.78 204.29 L 368.17 207.13 L 365.78 208.26 C 367.78 212.23 369.37 219.04 369.37 229.26 C 369.37 236.07 368.57 240.61 367.38 242.88 L 369.37 246.85 L 363.39 246.85 L 359.81 245.15 L 356.22 246.85 L 350.25 246.85 L 352.24 242.88 C 351.05 240.61 350.25 236.07 350.25 229.26 C 350.25 219.04 351.84 212.23 353.83 208.26 L 351.44 207.13 L 351.84 204.29 L 355.43 202.02 C 355.63 196.34 356.62 190.67 359.81 190.67 Z"/></clipPath>
<g clip-path="url(#c051)">
<path fill="#2a1cff" d="M 359.81 190.67 C 363.00 190.67 363.99 196.34 364.19 202.02 L 367.78 204.29 L 368.17 207.13 L 365.78 208.26 C 367.78 212.23 369.37 219.04 369.37 229.26 C 369.37 236.07 368.57 240.61 367.38 242.88 L 369.37 246.85 L 363.39 246.85 L 359.81 245.15 L 356.22 246.85 L 350.25 246.85 L 352.24 242.88 C 351.05 240.61 350.25 236.07 350.25 229.26 C 350.25 219.04 351.84 212.23 353.83 208.26 L 351.44 207.13 L 351.84 204.29 L 355.43 202.02 C 355.63 196.34 356.62 190.67 359.81 190.67 Z"/>
<ellipse cx="359.81" cy="204.86" rx="9.96" ry="14.19" fill="#10d8ff" filter="url(#spk2)"/>
<g filter="url(#dsp)"><g><ellipse cx="359.81" cy="238.90" rx="8.96" ry="7.38" fill="#10d8ff"/></g></g>
<g filter="url(#dsp)"><g><ellipse cx="358.81" cy="234.93" rx="6.98" ry="4.40" fill="#10d8ff"/><ellipse cx="358.81" cy="234.93" rx="5.98" ry="3.40" fill="#40ff20"/></g></g>
<g filter="url(#dsp)"><g><ellipse cx="356.82" cy="226.99" rx="6.98" ry="7.54" fill="#10d8ff"/><ellipse cx="356.82" cy="226.99" rx="5.98" ry="6.54" fill="#40ff20"/><ellipse cx="356.82" cy="226.99" rx="4.98" ry="5.54" fill="#f0ff00"/><ellipse cx="356.82" cy="226.99" rx="3.98" ry="4.54" fill="#ff1000"/></g></g>
<g filter="url(#dsp)"><g><ellipse cx="361.80" cy="244.58" rx="4.00" ry="4.70" fill="#10d8ff"/><ellipse cx="361.80" cy="244.58" rx="3.00" ry="3.70" fill="#40ff20"/><ellipse cx="361.80" cy="244.58" rx="2.00" ry="2.70" fill="#f0ff00"/><ellipse cx="361.80" cy="244.58" rx="1.00" ry="1.70" fill="#ff1000"/></g></g>
</g>
<text x="397.00" y="184.90" font-family="Liberation Serif" font-size="11" font-weight="normal" text-anchor="middle" fill="#000" >Day 60</text>
<rect x="377.00" y="189.50" width="42.00" height="58.50" fill="#0b0b0b"/>
<clipPath id="c060"><path d="M 387.71 190.67 C 390.73 190.67 391.68 196.34 391.87 202.02 L 395.27 204.29 L 395.65 207.13 L 393.38 208.26 C 395.27 212.23 396.78 219.04 396.78 229.26 C 396.78 236.07 396.03 240.61 394.89 242.88 L 396.78 246.85 L 391.11 246.85 L 387.71 245.15 L 384.31 246.85 L 378.64 246.85 L 380.53 242.88 C 379.39 240.61 378.64 236.07 378.64 229.26 C 378.64 219.04 380.15 212.23 382.04 208.26 L 379.77 207.13 L 380.15 204.29 L 383.55 202.02 C 383.74 196.34 384.69 190.67 387.71 190.67 Z"/></clipPath>
<g clip-path="url(#c060)">
<path fill="#2a1cff" d="M 387.71 190.67 C 390.73 190.67 391.68 196.34 391.87 202.02 L 395.27 204.29 L 395.65 207.13 L 393.38 208.26 C 395.27 212.23 396.78 219.04 396.78 229.26 C 396.78 236.07 396.03 240.61 394.89 242.88 L 396.78 246.85 L 391.11 246.85 L 387.71 245.15 L 384.31 246.85 L 378.64 246.85 L 380.53 242.88 C 379.39 240.61 378.64 236.07 378.64 229.26 C 378.64 219.04 380.15 212.23 382.04 208.26 L 379.77 207.13 L 380.15 204.29 L 383.55 202.02 C 383.74 196.34 384.69 190.67 387.71 190.67 Z"/>
<ellipse cx="387.71" cy="202.02" rx="7.56" ry="11.35" fill="#10d8ff" filter="url(#spk2)"/>
<ellipse cx="387.71" cy="233.23" rx="8.50" ry="11.35" fill="#10d8ff" filter="url(#spk3)"/>
<g filter="url(#dsp)"><g><ellipse cx="387.71" cy="219.04" rx="9.45" ry="2.84" fill="#6a28ea"/></g></g>
<g filter="url(#dsp)"><g><ellipse cx="386.76" cy="232.66" rx="5.91" ry="6.67" fill="#10d8ff"/><ellipse cx="386.76" cy="232.66" rx="4.91" ry="5.67" fill="#40ff20"/></g></g>
<g filter="url(#dsp)"><g><ellipse cx="383.93" cy="227.55" rx="1.89" ry="2.27" fill="#10d8ff"/></g></g>
</g>
<clipPath id="c061"><path d="M 407.66 190.67 C 410.75 190.67 411.72 196.34 411.91 202.02 L 415.39 204.29 L 415.77 207.13 L 413.46 208.26 C 415.39 212.23 416.93 219.04 416.93 229.26 C 416.93 236.07 416.16 240.61 415.00 242.88 L 416.93 246.85 L 411.14 246.85 L 407.66 245.15 L 404.18 246.85 L 398.39 246.85 L 400.32 242.88 C 399.16 240.61 398.39 236.07 398.39 229.26 C 398.39 219.04 399.93 212.23 401.86 208.26 L 399.55 207.13 L 399.93 204.29 L 403.41 202.02 C 403.60 196.34 404.57 190.67 407.66 190.67 Z"/></clipPath>
<g clip-path="url(#c061)">
<path fill="#2a1cff" d="M 407.66 190.67 C 410.75 190.67 411.72 196.34 411.91 202.02 L 415.39 204.29 L 415.77 207.13 L 413.46 208.26 C 415.39 212.23 416.93 219.04 416.93 229.26 C 416.93 236.07 416.16 240.61 415.00 242.88 L 416.93 246.85 L 411.14 246.85 L 407.66 245.15 L 404.18 246.85 L 398.39 246.85 L 400.32 242.88 C 399.16 240.61 398.39 236.07 398.39 229.26 C 398.39 219.04 399.93 212.23 401.86 208.26 L 399.55 207.13 L 399.93 204.29 L 403.41 202.02 C 403.60 196.34 404.57 190.67 407.66 190.67 Z"/>
<ellipse cx="408.63" cy="219.04" rx="3.86" ry="5.67" fill="#e8e0f0" filter="url(#spk)"/>
<ellipse cx="407.66" cy="202.02" rx="7.73" ry="8.51" fill="#0a5cff" filter="url(#spk)"/>
<ellipse cx="405.73" cy="231.53" rx="3.86" ry="5.67" fill="#10d8ff" filter="url(#spk2)"/>
<g filter="url(#dsp)"><g><ellipse cx="403.80" cy="230.39" rx="1.55" ry="2.27" fill="#10d8ff"/></g></g>
</g>
<text x="452.20" y="184.90" font-family="Liberation Serif" font-size="11" font-weight="normal" text-anchor="middle" fill="#000" >Day 120</text>
<rect x="426.00" y="189.50" width="45.80" height="58.50" fill="#0b0b0b"/>
<clipPath id="c070"><path d="M 438.14 190.09 C 441.58 190.09 442.66 195.82 442.87 201.55 L 446.75 203.84 L 447.18 206.71 L 444.59 207.86 C 446.75 211.87 448.47 218.75 448.47 229.07 C 448.47 235.95 447.61 240.54 446.32 242.83 L 448.47 246.84 L 442.01 246.84 L 438.14 245.12 L 434.26 246.84 L 427.80 246.84 L 429.96 242.83 C 428.67 240.54 427.80 235.95 427.80 229.07 C 427.80 218.75 429.53 211.87 431.68 207.86 L 429.10 206.71 L 429.53 203.84 L 433.40 201.55 C 433.62 195.82 434.69 190.09 438.14 190.09 Z"/></clipPath>
<g clip-path="url(#c070)">
<path fill="#a8a8a8" d="M 438.14 190.09 C 441.58 190.09 442.66 195.82 442.87 201.55 L 446.75 203.84 L 447.18 206.71 L 444.59 207.86 C 446.75 211.87 448.47 218.75 448.47 229.07 C 448.47 235.95 447.61 240.54 446.32 242.83 L 448.47 246.84 L 442.01 246.84 L 438.14 245.12 L 434.26 246.84 L 427.80 246.84 L 429.96 242.83 C 428.67 240.54 427.80 235.95 427.80 229.07 C 427.80 218.75 429.53 211.87 431.68 207.86 L 429.10 206.71 L 429.53 203.84 L 433.40 201.55 C 433.62 195.82 434.69 190.09 438.14 190.09 Z"/>
<path fill="#e2e2e2" d="M 438.14 191.49 C 441.13 191.49 442.07 196.94 442.26 202.39 L 445.63 204.57 L 446.00 207.30 L 443.75 208.39 C 445.63 212.21 447.13 218.75 447.13 228.57 C 447.13 235.11 446.38 239.47 445.25 241.65 L 447.13 245.47 L 441.51 245.47 L 438.14 243.83 L 434.77 245.47 L 429.15 245.47 L 431.02 241.65 C 429.90 239.47 429.15 235.11 429.15 228.57 C 429.15 218.75 430.65 212.21 432.52 208.39 L 430.27 207.30 L 430.65 204.57 L 434.02 202.39 C 434.20 196.94 435.14 191.49 438.14 191.49 Z"/>
<ellipse cx="438.14" cy="213.02" rx="10.76" ry="22.93" fill="#6a28ea" filter="url(#spk)"/>
<ellipse cx="437.06" cy="230.22" rx="9.69" ry="12.61" fill="#6a28ea" filter="url(#spk3)"/>
<ellipse cx="437.06" cy="230.22" rx="8.61" ry="10.32" fill="#2a1cff" filter="url(#spk3)"/>
<g filter="url(#dsp)"><g><ellipse cx="438.14" cy="200.40" rx="4.31" ry="3.44" fill="#2a1cff"/></g></g>
<g filter="url(#dsp)"><g><ellipse cx="438.14" cy="200.40" rx="2.72" ry="2.15" fill="#2a1cff"/><ellipse cx="438.14" cy="200.40" rx="1.72" ry="1.15" fill="#10d8ff"/></g></g>
<g filter="url(#dsp)"><g><ellipse cx="435.98" cy="229.07" rx="3.15" ry="3.87" fill="#2a1cff"/><ellipse cx="435.98" cy="229.07" rx="2.15" ry="2.87" fill="#10d8ff"/></g></g>
<g filter="url(#dsp)"><g><ellipse cx="440.29" cy="233.08" rx="2.29" ry="2.72" fill="#2a1cff"/><ellipse cx="440.29" cy="233.08" rx="1.29" ry="1.72" fill="#10d8ff"/></g></g>
</g>
<clipPath id="c071"><path d="M 460.35 190.09 C 463.72 190.09 464.77 195.82 464.98 201.55 L 468.78 203.84 L 469.20 206.71 L 466.67 207.86 C 468.78 211.87 470.46 218.75 470.46 229.07 C 470.46 235.95 469.62 240.54 468.36 242.83 L 470.46 246.84 L 464.14 246.84 L 460.35 245.12 L 456.56 246.84 L 450.24 246.84 L 452.34 242.83 C 451.08 240.54 450.24 235.95 450.24 229.07 C 450.24 218.75 451.92 211.87 454.03 207.86 L 451.50 206.71 L 451.92 203.84 L 455.72 201.55 C 455.93 195.82 456.98 190.09 460.35 190.09 Z"/></clipPath>
<g clip-path="url(#c071)">
<path fill="#a8a8a8" d="M 460.35 190.09 C 463.72 190.09 464.77 195.82 464.98 201.55 L 468.78 203.84 L 469.20 206.71 L 466.67 207.86 C 468.78 211.87 470.46 218.75 470.46 229.07 C 470.46 235.95 469.62 240.54 468.36 242.83 L 470.46 246.84 L 464.14 246.84 L 460.35 245.12 L 456.56 246.84 L 450.24 246.84 L 452.34 242.83 C 451.08 240.54 450.24 235.95 450.24 229.07 C 450.24 218.75 451.92 211.87 454.03 207.86 L 451.50 206.71 L 451.92 203.84 L 455.72 201.55 C 455.93 195.82 456.98 190.09 460.35 190.09 Z"/>
<path fill="#e2e2e2" d="M 460.35 191.49 C 463.27 191.49 464.19 196.94 464.37 202.39 L 467.66 204.57 L 468.02 207.30 L 465.83 208.39 C 467.66 212.21 469.12 218.75 469.12 228.57 C 469.12 235.11 468.39 239.47 467.29 241.65 L 469.12 245.47 L 463.64 245.47 L 460.35 243.83 L 457.06 245.47 L 451.58 245.47 L 453.41 241.65 C 452.31 239.47 451.58 235.11 451.58 228.57 C 451.58 218.75 453.04 212.21 454.87 208.39 L 452.68 207.30 L 453.04 204.57 L 456.33 202.39 C 456.51 196.94 457.43 191.49 460.35 191.49 Z"/>
<ellipse cx="460.35" cy="218.75" rx="10.53" ry="28.66" fill="#6a28ea" filter="url(#spk2)"/>
<ellipse cx="460.35" cy="221.62" rx="10.53" ry="22.93" fill="#6a28ea" filter="url(#spk)"/>
<g filter="url(#dsp)"><g><ellipse cx="460.35" cy="193.52" rx="3.11" ry="3.87" fill="#2a1cff"/><ellipse cx="460.35" cy="193.52" rx="2.11" ry="2.87" fill="#0a5cff"/></g></g>
</g>
<text x="105.20" y="263.20" font-family="Liberation Serif" font-size="11" font-weight="normal" text-anchor="middle" fill="#000" >Day 3</text>
<rect x="84.80" y="268.40" width="47.20" height="58.30" fill="#0b0b0b"/>
<clipPath id="c100"><path d="M 96.84 269.57 C 100.23 269.57 101.30 275.22 101.51 280.88 L 105.33 283.14 L 105.76 285.97 L 103.21 287.10 C 105.33 291.06 107.03 297.84 107.03 308.02 C 107.03 314.81 106.18 319.33 104.91 321.59 L 107.03 325.55 L 100.66 325.55 L 96.84 323.85 L 93.01 325.55 L 86.64 325.55 L 88.76 321.59 C 87.49 319.33 86.64 314.81 86.64 308.02 C 86.64 297.84 88.34 291.06 90.46 287.10 L 87.92 285.97 L 88.34 283.14 L 92.16 280.88 C 92.38 275.22 93.44 269.57 96.84 269.57 Z"/></clipPath>
<g clip-path="url(#c100)">
<path fill="#a8a8a8" d="M 96.84 269.57 C 100.23 269.57 101.30 275.22 101.51 280.88 L 105.33 283.14 L 105.76 285.97 L 103.21 287.10 C 105.33 291.06 107.03 297.84 107.03 308.02 C 107.03 314.81 106.18 319.33 104.91 321.59 L 107.03 325.55 L 100.66 325.55 L 96.84 323.85 L 93.01 325.55 L 86.64 325.55 L 88.76 321.59 C 87.49 319.33 86.64 314.81 86.64 308.02 C 86.64 297.84 88.34 291.06 90.46 287.10 L 87.92 285.97 L 88.34 283.14 L 92.16 280.88 C 92.38 275.22 93.44 269.57 96.84 269.57 Z"/>
<path fill="#e2e2e2" d="M 96.84 270.97 C 99.79 270.97 100.71 276.34 100.89 281.72 L 104.21 283.87 L 104.58 286.55 L 102.37 287.63 C 104.21 291.39 105.69 297.84 105.69 307.52 C 105.69 313.97 104.95 318.27 103.84 320.42 L 105.69 324.18 L 100.16 324.18 L 96.84 322.57 L 93.52 324.18 L 87.98 324.18 L 89.83 320.42 C 88.72 318.27 87.98 313.97 87.98 307.52 C 87.98 297.84 89.46 291.39 91.30 287.63 L 89.09 286.55 L 89.46 283.87 L 92.78 281.72 C 92.96 276.34 93.89 270.97 96.84 270.97 Z"/>
<ellipse cx="96.84" cy="286.53" rx="9.56" ry="10.18" fill="#2a1cff" filter="url(#spk3)"/>
<ellipse cx="96.84" cy="286.53" rx="9.56" ry="10.18" fill="#6a28ea" filter="url(#spk)"/>
<ellipse cx="96.84" cy="317.63" rx="8.50" ry="5.66" fill="#6a28ea" filter="url(#spk2)"/>
<g filter="url(#dsp)"><g><ellipse cx="96.84" cy="280.88" rx="3.55" ry="2.70" fill="#2a1cff"/><ellipse cx="96.84" cy="280.88" rx="2.55" ry="1.70" fill="#0a5cff"/></g></g>
<g filter="url(#dsp)"><g><ellipse cx="94.71" cy="306.32" rx="6.37" ry="5.66" fill="#2a1cff"/></g></g>
<g filter="url(#dsp)"><g><ellipse cx="94.71" cy="306.32" rx="3.55" ry="3.26" fill="#2a1cff"/><ellipse cx="94.71" cy="306.32" rx="2.55" ry="2.26" fill="#0a5cff"/></g></g>
<g filter="url(#dsp)"><g><ellipse cx="102.78" cy="301.80" rx="5.49" ry="6.26" fill="#2a1cff"/><ellipse cx="102.78" cy="301.80" rx="4.49" ry="5.26" fill="#10d8ff"/><ellipse cx="102.78" cy="301.80" rx="3.49" ry="4.26" fill="#40ff20"/><ellipse cx="102.78" cy="301.80" rx="2.49" ry="3.26" fill="#f0ff00"/><ellipse cx="102.78" cy="301.80" rx="1.49" ry="2.26" fill="#ff1000"/></g></g>
</g>
<clipPath id="c101"><path d="M 119.26 269.57 C 122.73 269.57 123.82 275.22 124.03 280.88 L 127.94 283.14 L 128.38 285.97 L 125.77 287.10 C 127.94 291.06 129.68 297.84 129.68 308.02 C 129.68 314.81 128.81 319.33 127.51 321.59 L 129.68 325.55 L 123.16 325.55 L 119.26 323.85 L 115.35 325.55 L 108.83 325.55 L 111.01 321.59 C 109.70 319.33 108.83 314.81 108.83 308.02 C 108.83 297.84 110.57 291.06 112.74 287.10 L 110.14 285.97 L 110.57 283.14 L 114.48 280.88 C 114.70 275.22 115.78 269.57 119.26 269.57 Z"/></clipPath>
<g clip-path="url(#c101)">
<path fill="#a8a8a8" d="M 119.26 269.57 C 122.73 269.57 123.82 275.22 124.03 280.88 L 127.94 283.14 L 128.38 285.97 L 125.77 287.10 C 127.94 291.06 129.68 297.84 129.68 308.02 C 129.68 314.81 128.81 319.33 127.51 321.59 L 129.68 325.55 L 123.16 325.55 L 119.26 323.85 L 115.35 325.55 L 108.83 325.55 L 111.01 321.59 C 109.70 319.33 108.83 314.81 108.83 308.02 C 108.83 297.84 110.57 291.06 112.74 287.10 L 110.14 285.97 L 110.57 283.14 L 114.48 280.88 C 114.70 275.22 115.78 269.57 119.26 269.57 Z"/>
<path fill="#e2e2e2" d="M 119.26 270.97 C 122.28 270.97 123.23 276.34 123.42 281.72 L 126.82 283.87 L 127.20 286.55 L 124.93 287.63 C 126.82 291.39 128.33 297.84 128.33 307.52 C 128.33 313.97 127.58 318.27 126.44 320.42 L 128.33 324.18 L 122.66 324.18 L 119.26 322.57 L 115.85 324.18 L 110.18 324.18 L 112.07 320.42 C 110.93 318.27 110.18 313.97 110.18 307.52 C 110.18 297.84 111.69 291.39 113.58 287.63 L 111.31 286.55 L 111.69 283.87 L 115.10 281.72 C 115.28 276.34 116.23 270.97 119.26 270.97 Z"/>
<ellipse cx="119.26" cy="293.32" rx="9.77" ry="8.48" fill="#6a28ea" filter="url(#spk)"/>
<ellipse cx="119.26" cy="286.53" rx="8.68" ry="4.52" fill="#2a1cff" filter="url(#spk)"/>
<ellipse cx="119.26" cy="311.98" rx="9.77" ry="6.79" fill="#6a28ea" filter="url(#spk2)"/>
<g filter="url(#dsp)"><g><ellipse cx="118.17" cy="283.70" rx="3.26" ry="2.83" fill="#2a1cff"/></g></g>
<g filter="url(#dsp)"><g transform="rotate(-30 121.43 300.67)"><ellipse cx="121.43" cy="300.67" rx="6.51" ry="5.66" fill="#2a1cff"/></g></g>
<g filter="url(#dsp)"><g transform="rotate(-30 121.86 299.54)"><ellipse cx="121.86" cy="299.54" rx="8.34" ry="6.26" fill="#2a1cff"/><ellipse cx="121.86" cy="299.54" rx="7.34" ry="5.26" fill="#10d8ff"/><ellipse cx="121.86" cy="299.54" rx="6.34" ry="4.26" fill="#40ff20"/><ellipse cx="121.86" cy="299.54" rx="5.34" ry="3.26" fill="#f0ff00"/><ellipse cx="121.86" cy="299.54" rx="4.34" ry="2.26" fill="#ff1000"/></g></g>
</g>
<text x="157.40" y="263.20" font-family="Liberation Serif" font-size="11" font-weight="normal" text-anchor="middle" fill="#000" >Day 6</text>
<rect x="136.70" y="268.40" width="44.90" height="58.30" fill="#0b0b0b"/>
<clipPath id="c110"><path d="M 148.37 269.57 C 151.82 269.57 152.90 275.22 153.12 280.88 L 156.99 283.14 L 157.43 285.97 L 154.84 287.10 C 156.99 291.06 158.72 297.84 158.72 308.02 C 158.72 314.81 157.86 319.33 156.56 321.59 L 158.72 325.55 L 152.25 325.55 L 148.37 323.85 L 144.49 325.55 L 138.03 325.55 L 140.18 321.59 C 138.89 319.33 138.03 314.81 138.03 308.02 C 138.03 297.84 139.75 291.06 141.91 287.10 L 139.32 285.97 L 139.75 283.14 L 143.63 280.88 C 143.85 275.22 144.93 269.57 148.37 269.57 Z"/></clipPath>
<g clip-path="url(#c110)">
<path fill="#2a1cff" d="M 148.37 269.57 C 151.82 269.57 152.90 275.22 153.12 280.88 L 156.99 283.14 L 157.43 285.97 L 154.84 287.10 C 156.99 291.06 158.72 297.84 158.72 308.02 C 158.72 314.81 157.86 319.33 156.56 321.59 L 158.72 325.55 L 152.25 325.55 L 148.37 323.85 L 144.49 325.55 L 138.03 325.55 L 140.18 321.59 C 138.89 319.33 138.03 314.81 138.03 308.02 C 138.03 297.84 139.75 291.06 141.91 287.10 L 139.32 285.97 L 139.75 283.14 L 143.63 280.88 C 143.85 275.22 144.93 269.57 148.37 269.57 Z"/>
<path fill="#10d8ff" d="M 148.37 270.67 C 151.47 270.67 152.44 276.10 152.63 281.54 L 156.11 283.71 L 156.50 286.43 L 154.18 287.51 C 156.11 291.32 157.66 297.84 157.66 307.62 C 157.66 314.15 156.89 318.49 155.73 320.67 L 157.66 324.47 L 151.86 324.47 L 148.37 322.84 L 144.89 324.47 L 139.09 324.47 L 141.02 320.67 C 139.86 318.49 139.09 314.15 139.09 307.62 C 139.09 297.84 140.63 291.32 142.57 287.51 L 140.25 286.43 L 140.63 283.71 L 144.12 281.54 C 144.31 276.10 145.28 270.67 148.37 270.67 Z"/>
<path fill="#40ff20" d="M 148.37 271.77 C 151.12 271.77 151.98 276.98 152.15 282.20 L 155.23 284.28 L 155.58 286.89 L 153.52 287.93 C 155.23 291.58 156.61 297.84 156.61 307.23 C 156.61 313.49 155.92 317.66 154.89 319.74 L 156.61 323.40 L 151.46 323.40 L 148.37 321.83 L 145.29 323.40 L 140.14 323.40 L 141.86 319.74 C 140.83 317.66 140.14 313.49 140.14 307.23 C 140.14 297.84 141.51 291.58 143.23 287.93 L 141.17 286.89 L 141.51 284.28 L 144.60 282.20 C 144.77 276.98 145.63 271.77 148.37 271.77 Z"/>
<g filter="url(#dsp)"><g><ellipse cx="148.37" cy="279.18" rx="6.17" ry="9.48" fill="#f0ff00"/><ellipse cx="148.37" cy="279.18" rx="5.17" ry="8.48" fill="#ff1000"/></g></g>
<g filter="url(#dsp)"><g><ellipse cx="148.37" cy="308.59" rx="10.91" ry="14.57" fill="#f0ff00"/><ellipse cx="148.37" cy="308.59" rx="9.91" ry="13.57" fill="#ff1000"/></g></g>
</g>
<clipPath id="c111"><path d="M 169.93 269.57 C 173.37 269.57 174.45 275.22 174.67 280.88 L 178.55 283.14 L 178.98 285.97 L 176.39 287.10 C 178.55 291.06 180.27 297.84 180.27 308.02 C 180.27 314.81 179.41 319.33 178.12 321.59 L 180.27 325.55 L 173.81 325.55 L 169.93 323.85 L 166.05 325.55 L 159.58 325.55 L 161.74 321.59 C 160.44 319.33 159.58 314.81 159.58 308.02 C 159.58 297.84 161.31 291.06 163.46 287.10 L 160.87 285.97 L 161.31 283.14 L 165.18 280.88 C 165.40 275.22 166.48 269.57 169.93 269.57 Z"/></clipPath>
<g clip-path="url(#c111)">
<path fill="#2a1cff" d="M 169.93 269.57 C 173.37 269.57 174.45 275.22 174.67 280.88 L 178.55 283.14 L 178.98 285.97 L 176.39 287.10 C 178.55 291.06 180.27 297.84 180.27 308.02 C 180.27 314.81 179.41 319.33 178.12 321.59 L 180.27 325.55 L 173.81 325.55 L 169.93 323.85 L 166.05 325.55 L 159.58 325.55 L 161.74 321.59 C 160.44 319.33 159.58 314.81 159.58 308.02 C 159.58 297.84 161.31 291.06 163.46 287.10 L 160.87 285.97 L 161.31 283.14 L 165.18 280.88 C 165.40 275.22 166.48 269.57 169.93 269.57 Z"/>
<path fill="#10d8ff" d="M 169.93 270.67 C 173.02 270.67 173.99 276.10 174.18 281.54 L 177.67 283.71 L 178.05 286.43 L 175.73 287.51 C 177.67 291.32 179.21 297.84 179.21 307.62 C 179.21 314.15 178.44 318.49 177.28 320.67 L 179.21 324.47 L 173.41 324.47 L 169.93 322.84 L 166.44 324.47 L 160.64 324.47 L 162.57 320.67 C 161.41 318.49 160.64 314.15 160.64 307.62 C 160.64 297.84 162.19 291.32 164.12 287.51 L 161.80 286.43 L 162.19 283.71 L 165.67 281.54 C 165.86 276.10 166.83 270.67 169.93 270.67 Z"/>
<g filter="url(#dsp)"><g><ellipse cx="169.93" cy="289.92" rx="8.62" ry="5.66" fill="#40ff20"/></g></g>
<g filter="url(#dsp)"><g><ellipse cx="169.93" cy="311.41" rx="9.48" ry="4.52" fill="#40ff20"/></g></g>
<g filter="url(#dsp)"><g><ellipse cx="167.34" cy="276.92" rx="6.74" ry="8.22" fill="#40ff20"/><ellipse cx="167.34" cy="276.92" rx="5.74" ry="7.22" fill="#f0ff00"/><ellipse cx="167.34" cy="276.92" rx="4.74" ry="6.22" fill="#ff1000"/></g></g>
<g filter="url(#dsp)"><g><ellipse cx="167.77" cy="288.23" rx="1.29" ry="2.26" fill="#2a1cff"/></g></g>
<g filter="url(#dsp)"><g><ellipse cx="171.00" cy="302.37" rx="11.48" ry="8.22" fill="#40ff20"/><ellipse cx="171.00" cy="302.37" rx="10.48" ry="7.22" fill="#f0ff00"/><ellipse cx="171.00" cy="302.37" rx="9.48" ry="6.22" fill="#ff1000"/></g></g>
<g filter="url(#dsp)"><g><ellipse cx="168.20" cy="317.63" rx="7.82" ry="7.66" fill="#40ff20"/><ellipse cx="168.20" cy="317.63" rx="6.82" ry="6.66" fill="#f0ff00"/><ellipse cx="168.20" cy="317.63" rx="5.82" ry="5.66" fill="#ff1000"/></g></g>
</g>
<text x="204.70" y="263.20" font-family="Liberation Serif" font-size="11" font-weight="normal" text-anchor="middle" fill="#000" >Day 10</text>
<rect x="187.60" y="268.40" width="42.20" height="58.30" fill="#0b0b0b"/>
<clipPath id="c120"><path d="M 198.36 269.57 C 201.67 269.57 202.70 275.22 202.91 280.88 L 206.63 283.14 L 207.05 285.97 L 204.56 287.10 C 206.63 291.06 208.29 297.84 208.29 308.02 C 208.29 314.81 207.46 319.33 206.22 321.59 L 208.29 325.55 L 202.08 325.55 L 198.36 323.85 L 194.64 325.55 L 188.44 325.55 L 190.50 321.59 C 189.26 319.33 188.44 314.81 188.44 308.02 C 188.44 297.84 190.09 291.06 192.16 287.10 L 189.68 285.97 L 190.09 283.14 L 193.81 280.88 C 194.02 275.22 195.05 269.57 198.36 269.57 Z"/></clipPath>
<g clip-path="url(#c120)">
<path fill="#2a1cff" d="M 198.36 269.57 C 201.67 269.57 202.70 275.22 202.91 280.88 L 206.63 283.14 L 207.05 285.97 L 204.56 287.10 C 206.63 291.06 208.29 297.84 208.29 308.02 C 208.29 314.81 207.46 319.33 206.22 321.59 L 208.29 325.55 L 202.08 325.55 L 198.36 323.85 L 194.64 325.55 L 188.44 325.55 L 190.50 321.59 C 189.26 319.33 188.44 314.81 188.44 308.02 C 188.44 297.84 190.09 291.06 192.16 287.10 L 189.68 285.97 L 190.09 283.14 L 193.81 280.88 C 194.02 275.22 195.05 269.57 198.36 269.57 Z"/>
<path fill="#10d8ff" d="M 198.36 270.67 C 201.32 270.67 202.24 276.10 202.43 281.54 L 205.75 283.71 L 206.12 286.43 L 203.90 287.51 C 205.75 291.32 207.23 297.84 207.23 307.62 C 207.23 314.15 206.49 318.49 205.38 320.67 L 207.23 324.47 L 201.69 324.47 L 198.36 322.84 L 195.03 324.47 L 189.49 324.47 L 191.34 320.67 C 190.23 318.49 189.49 314.15 189.49 307.62 C 189.49 297.84 190.97 291.32 192.82 287.51 L 190.60 286.43 L 190.97 283.71 L 194.30 281.54 C 194.48 276.10 195.40 270.67 198.36 270.67 Z"/>
<path fill="#40ff20" d="M 198.36 271.77 C 200.97 271.77 201.78 276.98 201.94 282.20 L 204.87 284.28 L 205.20 286.89 L 203.24 287.93 C 204.87 291.58 206.17 297.84 206.17 307.23 C 206.17 313.49 205.52 317.66 204.55 319.74 L 206.17 323.40 L 201.29 323.40 L 198.36 321.83 L 195.43 323.40 L 190.55 323.40 L 192.18 319.74 C 191.20 317.66 190.55 313.49 190.55 307.23 C 190.55 297.84 191.85 291.58 193.48 287.93 L 191.52 286.89 L 191.85 284.28 L 194.78 282.20 C 194.94 276.98 195.76 271.77 198.36 271.77 Z"/>
<g filter="url(#dsp)"><g><ellipse cx="198.36" cy="297.84" rx="6.20" ry="5.66" fill="#10f0a0"/></g></g>
<g filter="url(#dsp)"><g><ellipse cx="197.33" cy="275.22" rx="3.89" ry="4.96" fill="#f0ff00"/><ellipse cx="197.33" cy="275.22" rx="2.89" ry="3.96" fill="#ff1000"/></g></g>
<g filter="url(#dsp)"><g><ellipse cx="195.26" cy="285.40" rx="5.14" ry="3.83" fill="#f0ff00"/><ellipse cx="195.26" cy="285.40" rx="4.14" ry="2.83" fill="#ff1000"/></g></g>
<g filter="url(#dsp)"><g><ellipse cx="195.26" cy="310.85" rx="7.20" ry="12.31" fill="#f0ff00"/><ellipse cx="195.26" cy="310.85" rx="6.20" ry="11.31" fill="#ff1000"/></g></g>
</g>
<clipPath id="c121"><path d="M 219.04 269.57 C 222.35 269.57 223.38 275.22 223.59 280.88 L 227.31 283.14 L 227.72 285.97 L 225.24 287.10 C 227.31 291.06 228.96 297.84 228.96 308.02 C 228.96 314.81 228.14 319.33 226.90 321.59 L 228.96 325.55 L 222.76 325.55 L 219.04 323.85 L 215.32 325.55 L 209.11 325.55 L 211.18 321.59 C 209.94 319.33 209.11 314.81 209.11 308.02 C 209.11 297.84 210.77 291.06 212.84 287.10 L 210.35 285.97 L 210.77 283.14 L 214.49 280.88 C 214.70 275.22 215.73 269.57 219.04 269.57 Z"/></clipPath>
<g clip-path="url(#c121)">
<path fill="#2a1cff" d="M 219.04 269.57 C 222.35 269.57 223.38 275.22 223.59 280.88 L 227.31 283.14 L 227.72 285.97 L 225.24 287.10 C 227.31 291.06 228.96 297.84 228.96 308.02 C 228.96 314.81 228.14 319.33 226.90 321.59 L 228.96 325.55 L 222.76 325.55 L 219.04 323.85 L 215.32 325.55 L 209.11 325.55 L 211.18 321.59 C 209.94 319.33 209.11 314.81 209.11 308.02 C 209.11 297.84 210.77 291.06 212.84 287.10 L 210.35 285.97 L 210.77 283.14 L 214.49 280.88 C 214.70 275.22 215.73 269.57 219.04 269.57 Z"/>
<path fill="#10d8ff" d="M 219.04 270.67 C 222.00 270.67 222.92 276.10 223.10 281.54 L 226.43 283.71 L 226.80 286.43 L 224.58 287.51 C 226.43 291.32 227.91 297.84 227.91 307.62 C 227.91 314.15 227.17 318.49 226.06 320.67 L 227.91 324.47 L 222.37 324.47 L 219.04 322.84 L 215.71 324.47 L 210.17 324.47 L 212.02 320.67 C 210.91 318.49 210.17 314.15 210.17 307.62 C 210.17 297.84 211.65 291.32 213.50 287.51 L 211.28 286.43 L 211.65 283.71 L 214.97 281.54 C 215.16 276.10 216.08 270.67 219.04 270.67 Z"/>
<path fill="#40ff20" d="M 219.04 271.77 C 221.64 271.77 222.46 276.98 222.62 282.20 L 225.55 284.28 L 225.88 286.89 L 223.92 287.93 C 225.55 291.58 226.85 297.84 226.85 307.23 C 226.85 313.49 226.20 317.66 225.22 319.74 L 226.85 323.40 L 221.97 323.40 L 219.04 321.83 L 216.11 323.40 L 211.23 323.40 L 212.85 319.74 C 211.88 317.66 211.23 313.49 211.23 307.23 C 211.23 297.84 212.53 291.58 214.16 287.93 L 212.20 286.89 L 212.53 284.28 L 215.46 282.20 C 215.62 276.98 216.43 271.77 219.04 271.77 Z"/>
<g filter="url(#dsp)"><g><ellipse cx="219.04" cy="311.41" rx="7.24" ry="8.48" fill="#10d8ff"/></g></g>
<g filter="url(#dsp)"><g><ellipse cx="215.94" cy="276.35" rx="5.14" ry="4.39" fill="#f0ff00"/><ellipse cx="215.94" cy="276.35" rx="4.14" ry="3.39" fill="#ff1000"/></g></g>
<g filter="url(#dsp)"><g><ellipse cx="225.66" cy="282.01" rx="3.48" ry="3.83" fill="#f0ff00"/><ellipse cx="225.66" cy="282.01" rx="2.48" ry="2.83" fill="#ff1000"/></g></g>
<g filter="url(#dsp)"><g><ellipse cx="221.11" cy="297.84" rx="7.62" ry="6.09" fill="#f0ff00"/><ellipse cx="221.11" cy="297.84" rx="6.62" ry="5.09" fill="#ff1000"/></g></g>
<g filter="url(#dsp)"><g><ellipse cx="214.90" cy="322.16" rx="2.65" ry="3.26" fill="#f0ff00"/><ellipse cx="214.90" cy="322.16" rx="1.65" ry="2.26" fill="#ff1000"/></g></g>
</g>
<text x="252.50" y="263.20" font-family="Liberation Serif" font-size="11" font-weight="normal" text-anchor="middle" fill="#000" >Day 14</text>
<rect x="229.80" y="268.40" width="47.20" height="58.30" fill="#0b0b0b"/>
<clipPath id="c130"><path d="M 241.84 269.57 C 245.23 269.57 246.30 275.22 246.51 280.88 L 250.33 283.14 L 250.76 285.97 L 248.21 287.10 C 250.33 291.06 252.03 297.84 252.03 308.02 C 252.03 314.81 251.18 319.33 249.91 321.59 L 252.03 325.55 L 245.66 325.55 L 241.84 323.85 L 238.01 325.55 L 231.64 325.55 L 233.76 321.59 C 232.49 319.33 231.64 314.81 231.64 308.02 C 231.64 297.84 233.34 291.06 235.46 287.10 L 232.92 285.97 L 233.34 283.14 L 237.16 280.88 C 237.38 275.22 238.44 269.57 241.84 269.57 Z"/></clipPath>
<g clip-path="url(#c130)">
<path fill="#2a1cff" d="M 241.84 269.57 C 245.23 269.57 246.30 275.22 246.51 280.88 L 250.33 283.14 L 250.76 285.97 L 248.21 287.10 C 250.33 291.06 252.03 297.84 252.03 308.02 C 252.03 314.81 251.18 319.33 249.91 321.59 L 252.03 325.55 L 245.66 325.55 L 241.84 323.85 L 238.01 325.55 L 231.64 325.55 L 233.76 321.59 C 232.49 319.33 231.64 314.81 231.64 308.02 C 231.64 297.84 233.34 291.06 235.46 287.10 L 232.92 285.97 L 233.34 283.14 L 237.16 280.88 C 237.38 275.22 238.44 269.57 241.84 269.57 Z"/>
<path fill="#10d8ff" d="M 241.84 270.67 C 244.88 270.67 245.83 276.10 246.02 281.54 L 249.45 283.71 L 249.83 286.43 L 247.55 287.51 C 249.45 291.32 250.98 297.84 250.98 307.62 C 250.98 314.15 250.21 318.49 249.07 320.67 L 250.98 324.47 L 245.26 324.47 L 241.84 322.84 L 238.41 324.47 L 232.70 324.47 L 234.60 320.67 C 233.46 318.49 232.70 314.15 232.70 307.62 C 232.70 297.84 234.22 291.32 236.12 287.51 L 233.84 286.43 L 234.22 283.71 L 237.65 281.54 C 237.84 276.10 238.79 270.67 241.84 270.67 Z"/>
<path fill="#40ff20" d="M 241.84 271.77 C 244.53 271.77 245.37 276.98 245.54 282.20 L 248.57 284.28 L 248.91 286.89 L 246.89 287.93 C 248.57 291.58 249.92 297.84 249.92 307.23 C 249.92 313.49 249.25 317.66 248.24 319.74 L 249.92 323.40 L 244.87 323.40 L 241.84 321.83 L 238.80 323.40 L 233.75 323.40 L 235.44 319.74 C 234.43 317.66 233.75 313.49 233.75 307.23 C 233.75 297.84 235.10 291.58 236.78 287.93 L 234.76 286.89 L 235.10 284.28 L 238.13 282.20 C 238.30 276.98 239.14 271.77 241.84 271.77 Z"/>
<g filter="url(#dsp)"><g><ellipse cx="241.84" cy="295.01" rx="9.56" ry="2.83" fill="#2a1cff"/></g></g>
<g filter="url(#dsp)"><g><ellipse cx="242.90" cy="280.88" rx="6.31" ry="9.48" fill="#f0ff00"/><ellipse cx="242.90" cy="280.88" rx="5.31" ry="8.48" fill="#ff1000"/></g></g>
<g filter="url(#dsp)"><g><ellipse cx="232.28" cy="283.70" rx="2.27" ry="3.83" fill="#f0ff00"/><ellipse cx="232.28" cy="283.70" rx="1.27" ry="2.83" fill="#ff1000"/></g></g>
<g filter="url(#dsp)"><g><ellipse cx="240.77" cy="314.81" rx="7.80" ry="10.05" fill="#f0ff00"/><ellipse cx="240.77" cy="314.81" rx="6.80" ry="9.05" fill="#ff1000"/></g></g>
</g>
<clipPath id="c131"><path d="M 264.26 269.57 C 268.03 269.57 269.21 275.22 269.45 280.88 L 273.70 283.14 L 274.17 285.97 L 271.34 287.10 C 273.70 291.06 275.58 297.84 275.58 308.02 C 275.58 314.81 274.64 319.33 273.22 321.59 L 275.58 325.55 L 268.50 325.55 L 264.26 323.85 L 260.01 325.55 L 252.93 325.55 L 255.29 321.59 C 253.87 319.33 252.93 314.81 252.93 308.02 C 252.93 297.84 254.82 291.06 257.18 287.10 L 254.34 285.97 L 254.82 283.14 L 259.06 280.88 C 259.30 275.22 260.48 269.57 264.26 269.57 Z"/></clipPath>
<g clip-path="url(#c131)">
<path fill="#2a1cff" d="M 264.26 269.57 C 268.03 269.57 269.21 275.22 269.45 280.88 L 273.70 283.14 L 274.17 285.97 L 271.34 287.10 C 273.70 291.06 275.58 297.84 275.58 308.02 C 275.58 314.81 274.64 319.33 273.22 321.59 L 275.58 325.55 L 268.50 325.55 L 264.26 323.85 L 260.01 325.55 L 252.93 325.55 L 255.29 321.59 C 253.87 319.33 252.93 314.81 252.93 308.02 C 252.93 297.84 254.82 291.06 257.18 287.10 L 254.34 285.97 L 254.82 283.14 L 259.06 280.88 C 259.30 275.22 260.48 269.57 264.26 269.57 Z"/>
<path fill="#0a5cff" d="M 264.26 270.67 C 267.68 270.67 268.75 276.10 268.96 281.54 L 272.82 283.71 L 273.24 286.43 L 270.68 287.51 C 272.82 291.32 274.53 297.84 274.53 307.62 C 274.53 314.15 273.67 318.49 272.39 320.67 L 274.53 324.47 L 268.11 324.47 L 264.26 322.84 L 260.40 324.47 L 253.98 324.47 L 256.12 320.67 C 254.84 318.49 253.98 314.15 253.98 307.62 C 253.98 297.84 255.70 291.32 257.84 287.51 L 255.27 286.43 L 255.70 283.71 L 259.55 281.54 C 259.76 276.10 260.83 270.67 264.26 270.67 Z"/>
<g filter="url(#dsp)"><g><ellipse cx="264.26" cy="297.84" rx="10.44" ry="15.14" fill="#2a1cff"/><ellipse cx="264.26" cy="297.84" rx="9.44" ry="14.14" fill="#10d8ff"/></g></g>
<g filter="url(#dsp)"><g><ellipse cx="265.44" cy="300.67" rx="5.54" ry="6.52" fill="#2a1cff"/><ellipse cx="265.44" cy="300.67" rx="4.54" ry="5.52" fill="#10d8ff"/><ellipse cx="265.44" cy="300.67" rx="3.54" ry="4.52" fill="#40ff20"/></g></g>
<g filter="url(#dsp)"><g><ellipse cx="259.54" cy="292.19" rx="4.36" ry="4.83" fill="#2a1cff"/><ellipse cx="259.54" cy="292.19" rx="3.36" ry="3.83" fill="#10d8ff"/><ellipse cx="259.54" cy="292.19" rx="2.36" ry="2.83" fill="#40ff20"/></g></g>
<g filter="url(#dsp)"><g><ellipse cx="261.90" cy="274.09" rx="7.54" ry="7.39" fill="#2a1cff"/><ellipse cx="261.90" cy="274.09" rx="6.54" ry="6.39" fill="#10d8ff"/><ellipse cx="261.90" cy="274.09" rx="5.54" ry="5.39" fill="#40ff20"/><ellipse cx="261.90" cy="274.09" rx="4.54" ry="4.39" fill="#f0ff00"/><ellipse cx="261.90" cy="274.09" rx="3.54" ry="3.39" fill="#ff1000"/></g></g>
<g filter="url(#dsp)"><g><ellipse cx="254.82" cy="279.75" rx="6.36" ry="6.83" fill="#2a1cff"/><ellipse cx="254.82" cy="279.75" rx="5.36" ry="5.83" fill="#10d8ff"/><ellipse cx="254.82" cy="279.75" rx="4.36" ry="4.83" fill="#40ff20"/><ellipse cx="254.82" cy="279.75" rx="3.36" ry="3.83" fill="#f0ff00"/><ellipse cx="254.82" cy="279.75" rx="2.36" ry="2.83" fill="#ff1000"/></g></g>
<g filter="url(#dsp)"><g><ellipse cx="271.34" cy="285.40" rx="8.25" ry="8.52" fill="#2a1cff"/><ellipse cx="271.34" cy="285.40" rx="7.25" ry="7.52" fill="#10d8ff"/><ellipse cx="271.34" cy="285.40" rx="6.25" ry="6.52" fill="#40ff20"/><ellipse cx="271.34" cy="285.40" rx="5.25" ry="5.52" fill="#f0ff00"/><ellipse cx="271.34" cy="285.40" rx="4.25" ry="4.52" fill="#ff1000"/></g></g>
<g filter="url(#dsp)"><g><ellipse cx="274.88" cy="292.19" rx="5.18" ry="7.39" fill="#2a1cff"/><ellipse cx="274.88" cy="292.19" rx="4.18" ry="6.39" fill="#10d8ff"/><ellipse cx="274.88" cy="292.19" rx="3.18" ry="5.39" fill="#40ff20"/><ellipse cx="274.88" cy="292.19" rx="2.18" ry="4.39" fill="#f0ff00"/><ellipse cx="274.88" cy="292.19" rx="1.18" ry="3.39" fill="#ff1000"/></g></g>
</g>
<text x="304.60" y="263.20" font-family="Liberation Serif" font-size="11" font-weight="normal" text-anchor="middle" fill="#000" >Day 21</text>
<rect x="281.60" y="268.40" width="43.80" height="58.30" fill="#0b0b0b"/>
<clipPath id="c140"><path d="M 292.99 269.57 C 296.35 269.57 297.40 275.22 297.61 280.88 L 301.40 283.14 L 301.82 285.97 L 299.30 287.10 C 301.40 291.06 303.08 297.84 303.08 308.02 C 303.08 314.81 302.24 319.33 300.98 321.59 L 303.08 325.55 L 296.77 325.55 L 292.99 323.85 L 289.20 325.55 L 282.90 325.55 L 285.00 321.59 C 283.74 319.33 282.90 314.81 282.90 308.02 C 282.90 297.84 284.58 291.06 286.68 287.10 L 284.16 285.97 L 284.58 283.14 L 288.36 280.88 C 288.57 275.22 289.62 269.57 292.99 269.57 Z"/></clipPath>
<g clip-path="url(#c140)">
<path fill="#2a1cff" d="M 292.99 269.57 C 296.35 269.57 297.40 275.22 297.61 280.88 L 301.40 283.14 L 301.82 285.97 L 299.30 287.10 C 301.40 291.06 303.08 297.84 303.08 308.02 C 303.08 314.81 302.24 319.33 300.98 321.59 L 303.08 325.55 L 296.77 325.55 L 292.99 323.85 L 289.20 325.55 L 282.90 325.55 L 285.00 321.59 C 283.74 319.33 282.90 314.81 282.90 308.02 C 282.90 297.84 284.58 291.06 286.68 287.10 L 284.16 285.97 L 284.58 283.14 L 288.36 280.88 C 288.57 275.22 289.62 269.57 292.99 269.57 Z"/>
<path fill="#10d8ff" d="M 292.99 270.67 C 296.00 270.67 296.94 276.10 297.13 281.54 L 300.52 283.71 L 300.89 286.43 L 298.64 287.51 C 300.52 291.32 302.02 297.84 302.02 307.62 C 302.02 314.15 301.27 318.49 300.14 320.67 L 302.02 324.47 L 296.38 324.47 L 292.99 322.84 L 289.60 324.47 L 283.95 324.47 L 285.83 320.67 C 284.71 318.49 283.95 314.15 283.95 307.62 C 283.95 297.84 285.46 291.32 287.34 287.51 L 285.08 286.43 L 285.46 283.71 L 288.85 281.54 C 289.03 276.10 289.98 270.67 292.99 270.67 Z"/>
<path fill="#40ff20" d="M 292.99 271.77 C 295.65 271.77 296.48 276.98 296.65 282.20 L 299.64 284.28 L 299.97 286.89 L 297.98 287.93 C 299.64 291.58 300.97 297.84 300.97 307.23 C 300.97 313.49 300.30 317.66 299.31 319.74 L 300.97 323.40 L 295.98 323.40 L 292.99 321.83 L 290.00 323.40 L 285.01 323.40 L 286.67 319.74 C 285.67 317.66 285.01 313.49 285.01 307.23 C 285.01 297.84 286.34 291.58 288.00 287.93 L 286.01 286.89 L 286.34 284.28 L 289.33 282.20 C 289.50 276.98 290.33 271.77 292.99 271.77 Z"/>
<g filter="url(#dsp)"><g><ellipse cx="292.99" cy="293.32" rx="9.46" ry="3.39" fill="#10d8ff"/></g></g>
<g filter="url(#dsp)"><g><ellipse cx="289.83" cy="275.22" rx="4.15" ry="7.79" fill="#f0ff00"/><ellipse cx="289.83" cy="275.22" rx="3.15" ry="6.79" fill="#ff1000"/></g></g>
<g filter="url(#dsp)"><g><ellipse cx="296.14" cy="283.70" rx="4.78" ry="4.96" fill="#f0ff00"/><ellipse cx="296.14" cy="283.70" rx="3.78" ry="3.96" fill="#ff1000"/></g></g>
<g filter="url(#dsp)"><g><ellipse cx="284.58" cy="286.53" rx="3.10" ry="3.83" fill="#f0ff00"/><ellipse cx="284.58" cy="286.53" rx="2.10" ry="2.83" fill="#ff1000"/></g></g>
<g filter="url(#dsp)"><g><ellipse cx="291.94" cy="308.02" rx="9.83" ry="9.48" fill="#f0ff00"/><ellipse cx="291.94" cy="308.02" rx="8.83" ry="8.48" fill="#ff1000"/></g></g>
<g filter="url(#dsp)"><g><ellipse cx="292.99" cy="314.81" rx="2.10" ry="1.70" fill="#f0ff00"/></g></g>
<g filter="url(#dsp)"><g><ellipse cx="286.68" cy="321.59" rx="3.52" ry="4.39" fill="#f0ff00"/><ellipse cx="286.68" cy="321.59" rx="2.52" ry="3.39" fill="#ff1000"/></g></g>
<g filter="url(#dsp)"><g><ellipse cx="295.09" cy="323.29" rx="3.52" ry="3.83" fill="#f0ff00"/><ellipse cx="295.09" cy="323.29" rx="2.52" ry="2.83" fill="#ff1000"/></g></g>
</g>
<clipPath id="c141"><path d="M 314.01 269.57 C 317.38 269.57 318.43 275.22 318.64 280.88 L 322.42 283.14 L 322.84 285.97 L 320.32 287.10 C 322.42 291.06 324.10 297.84 324.10 308.02 C 324.10 314.81 323.26 319.33 322.00 321.59 L 324.10 325.55 L 317.80 325.55 L 314.01 323.85 L 310.23 325.55 L 303.92 325.55 L 306.02 321.59 C 304.76 319.33 303.92 314.81 303.92 308.02 C 303.92 297.84 305.60 291.06 307.70 287.10 L 305.18 285.97 L 305.60 283.14 L 309.39 280.88 C 309.60 275.22 310.65 269.57 314.01 269.57 Z"/></clipPath>
<g clip-path="url(#c141)">
<path fill="#2a1cff" d="M 314.01 269.57 C 317.38 269.57 318.43 275.22 318.64 280.88 L 322.42 283.14 L 322.84 285.97 L 320.32 287.10 C 322.42 291.06 324.10 297.84 324.10 308.02 C 324.10 314.81 323.26 319.33 322.00 321.59 L 324.10 325.55 L 317.80 325.55 L 314.01 323.85 L 310.23 325.55 L 303.92 325.55 L 306.02 321.59 C 304.76 319.33 303.92 314.81 303.92 308.02 C 303.92 297.84 305.60 291.06 307.70 287.10 L 305.18 285.97 L 305.60 283.14 L 309.39 280.88 C 309.60 275.22 310.65 269.57 314.01 269.57 Z"/>
<path fill="#10d8ff" d="M 314.01 270.67 C 317.02 270.67 317.97 276.10 318.15 281.54 L 321.54 283.71 L 321.92 286.43 L 319.66 287.51 C 321.54 291.32 323.05 297.84 323.05 307.62 C 323.05 314.15 322.29 318.49 321.17 320.67 L 323.05 324.47 L 317.40 324.47 L 314.01 322.84 L 310.62 324.47 L 304.98 324.47 L 306.86 320.67 C 305.73 318.49 304.98 314.15 304.98 307.62 C 304.98 297.84 306.48 291.32 308.36 287.51 L 306.11 286.43 L 306.48 283.71 L 309.87 281.54 C 310.06 276.10 311.00 270.67 314.01 270.67 Z"/>
<g filter="url(#dsp)"><g><ellipse cx="310.86" cy="303.50" rx="4.20" ry="5.66" fill="#40ff20"/></g></g>
<g filter="url(#dsp)"><g><ellipse cx="310.86" cy="272.39" rx="4.52" ry="4.83" fill="#40ff20"/><ellipse cx="310.86" cy="272.39" rx="3.52" ry="3.83" fill="#f0ff00"/><ellipse cx="310.86" cy="272.39" rx="2.52" ry="2.83" fill="#ff1000"/></g></g>
<g filter="url(#dsp)"><g><ellipse cx="318.22" cy="285.40" rx="7.89" ry="8.79" fill="#40ff20"/><ellipse cx="318.22" cy="285.40" rx="6.89" ry="7.79" fill="#f0ff00"/><ellipse cx="318.22" cy="285.40" rx="5.89" ry="6.79" fill="#ff1000"/></g></g>
<g filter="url(#dsp)"><g><ellipse cx="317.80" cy="312.54" rx="5.89" ry="10.18" fill="#2a1cff"/></g></g>
<g filter="url(#dsp)"><g><ellipse cx="307.70" cy="323.29" rx="3.26" ry="4.26" fill="#40ff20"/><ellipse cx="307.70" cy="323.29" rx="2.26" ry="3.26" fill="#f0ff00"/><ellipse cx="307.70" cy="323.29" rx="1.26" ry="2.26" fill="#ff1000"/></g></g>
</g>
<text x="351.00" y="263.20" font-family="Liberation Serif" font-size="11" font-weight="normal" text-anchor="middle" fill="#000" >Day 28</text>
<rect x="327.50" y="268.40" width="44.00" height="58.30" fill="#0b0b0b"/>
<clipPath id="c150"><path d="M 338.72 269.57 C 342.17 269.57 343.25 275.22 343.46 280.88 L 347.34 283.14 L 347.78 285.97 L 345.19 287.10 C 347.34 291.06 349.07 297.84 349.07 308.02 C 349.07 314.81 348.21 319.33 346.91 321.59 L 349.07 325.55 L 342.60 325.55 L 338.72 323.85 L 334.84 325.55 L 328.37 325.55 L 330.53 321.59 C 329.23 319.33 328.37 314.81 328.37 308.02 C 328.37 297.84 330.10 291.06 332.25 287.10 L 329.66 285.97 L 330.10 283.14 L 333.98 280.88 C 334.19 275.22 335.27 269.57 338.72 269.57 Z"/></clipPath>
<g clip-path="url(#c150)">
<path fill="#2a1cff" d="M 338.72 269.57 C 342.17 269.57 343.25 275.22 343.46 280.88 L 347.34 283.14 L 347.78 285.97 L 345.19 287.10 C 347.34 291.06 349.07 297.84 349.07 308.02 C 349.07 314.81 348.21 319.33 346.91 321.59 L 349.07 325.55 L 342.60 325.55 L 338.72 323.85 L 334.84 325.55 L 328.37 325.55 L 330.53 321.59 C 329.23 319.33 328.37 314.81 328.37 308.02 C 328.37 297.84 330.10 291.06 332.25 287.10 L 329.66 285.97 L 330.10 283.14 L 333.98 280.88 C 334.19 275.22 335.27 269.57 338.72 269.57 Z"/>
<path fill="#10d8ff" d="M 338.72 270.67 C 341.82 270.67 342.79 276.10 342.98 281.54 L 346.46 283.71 L 346.85 286.43 L 344.53 287.51 C 346.46 291.32 348.01 297.84 348.01 307.62 C 348.01 314.15 347.24 318.49 346.08 320.67 L 348.01 324.47 L 342.20 324.47 L 338.72 322.84 L 335.24 324.47 L 329.43 324.47 L 331.36 320.67 C 330.20 318.49 329.43 314.15 329.43 307.62 C 329.43 297.84 330.98 291.32 332.91 287.51 L 330.59 286.43 L 330.98 283.71 L 334.46 281.54 C 334.65 276.10 335.62 270.67 338.72 270.67 Z"/>
<path fill="#40ff20" d="M 338.72 271.77 C 341.47 271.77 342.32 276.98 342.50 282.20 L 345.58 284.28 L 345.93 286.89 L 343.87 287.93 C 345.58 291.58 346.96 297.84 346.96 307.23 C 346.96 313.49 346.27 317.66 345.24 319.74 L 346.96 323.40 L 341.81 323.40 L 338.72 321.83 L 335.63 323.40 L 330.48 323.40 L 332.20 319.74 C 331.17 317.66 330.48 313.49 330.48 307.23 C 330.48 297.84 331.86 291.58 333.57 287.93 L 331.51 286.89 L 331.86 284.28 L 334.94 282.20 C 335.12 276.98 335.97 271.77 338.72 271.77 Z"/>
<g filter="url(#dsp)"><g><ellipse cx="337.64" cy="292.19" rx="6.47" ry="5.66" fill="#10d8ff"/></g></g>
<g filter="url(#dsp)"><g><ellipse cx="337.64" cy="289.36" rx="1.29" ry="1.70" fill="#2a1cff"/></g></g>
<g filter="url(#dsp)"><g><ellipse cx="334.41" cy="272.96" rx="3.16" ry="4.39" fill="#f0ff00"/><ellipse cx="334.41" cy="272.96" rx="2.16" ry="3.39" fill="#ff1000"/></g></g>
<g filter="url(#dsp)"><g><ellipse cx="338.72" cy="280.88" rx="7.47" ry="3.26" fill="#f0ff00"/><ellipse cx="338.72" cy="280.88" rx="6.47" ry="2.26" fill="#ff1000"/></g></g>
<g filter="url(#dsp)"><g><ellipse cx="338.72" cy="309.15" rx="10.06" ry="13.44" fill="#f0ff00"/><ellipse cx="338.72" cy="309.15" rx="9.06" ry="12.44" fill="#ff1000"/></g></g>
<g filter="url(#dsp)"><g><ellipse cx="347.78" cy="283.70" rx="2.72" ry="3.83" fill="#f0ff00"/><ellipse cx="347.78" cy="283.70" rx="1.72" ry="2.83" fill="#ff1000"/></g></g>
</g>
<clipPath id="c151"><path d="M 360.28 269.57 C 363.73 269.57 364.81 275.22 365.02 280.88 L 368.90 283.14 L 369.34 285.97 L 366.75 287.10 C 368.90 291.06 370.63 297.84 370.63 308.02 C 370.63 314.81 369.77 319.33 368.47 321.59 L 370.63 325.55 L 364.16 325.55 L 360.28 323.85 L 356.40 325.55 L 349.93 325.55 L 352.09 321.59 C 350.79 319.33 349.93 314.81 349.93 308.02 C 349.93 297.84 351.66 291.06 353.81 287.10 L 351.22 285.97 L 351.66 283.14 L 355.54 280.88 C 355.75 275.22 356.83 269.57 360.28 269.57 Z"/></clipPath>
<g clip-path="url(#c151)">
<path fill="#2a1cff" d="M 360.28 269.57 C 363.73 269.57 364.81 275.22 365.02 280.88 L 368.90 283.14 L 369.34 285.97 L 366.75 287.10 C 368.90 291.06 370.63 297.84 370.63 308.02 C 370.63 314.81 369.77 319.33 368.47 321.59 L 370.63 325.55 L 364.16 325.55 L 360.28 323.85 L 356.40 325.55 L 349.93 325.55 L 352.09 321.59 C 350.79 319.33 349.93 314.81 349.93 308.02 C 349.93 297.84 351.66 291.06 353.81 287.10 L 351.22 285.97 L 351.66 283.14 L 355.54 280.88 C 355.75 275.22 356.83 269.57 360.28 269.57 Z"/>
<path fill="#10d8ff" d="M 360.28 270.67 C 363.38 270.67 364.35 276.10 364.54 281.54 L 368.02 283.71 L 368.41 286.43 L 366.09 287.51 C 368.02 291.32 369.57 297.84 369.57 307.62 C 369.57 314.15 368.80 318.49 367.64 320.67 L 369.57 324.47 L 363.76 324.47 L 360.28 322.84 L 356.80 324.47 L 350.99 324.47 L 352.92 320.67 C 351.76 318.49 350.99 314.15 350.99 307.62 C 350.99 297.84 352.54 291.32 354.47 287.51 L 352.15 286.43 L 352.54 283.71 L 356.02 281.54 C 356.21 276.10 357.18 270.67 360.28 270.67 Z"/>
<path fill="#40ff20" d="M 360.28 271.77 C 363.03 271.77 363.88 276.98 364.06 282.20 L 367.14 284.28 L 367.49 286.89 L 365.43 287.93 C 367.14 291.58 368.52 297.84 368.52 307.23 C 368.52 313.49 367.83 317.66 366.80 319.74 L 368.52 323.40 L 363.37 323.40 L 360.28 321.83 L 357.19 323.40 L 352.04 323.40 L 353.76 319.74 C 352.73 317.66 352.04 313.49 352.04 307.23 C 352.04 297.84 353.42 291.58 355.13 287.93 L 353.07 286.89 L 353.42 284.28 L 356.50 282.20 C 356.68 276.98 357.53 271.77 360.28 271.77 Z"/>
<g filter="url(#dsp)"><g><ellipse cx="358.12" cy="292.19" rx="6.47" ry="8.48" fill="#10d8ff"/></g></g>
<g filter="url(#dsp)"><g><ellipse cx="355.97" cy="289.36" rx="1.29" ry="1.70" fill="#2a1cff"/></g></g>
<g filter="url(#dsp)"><g><ellipse cx="354.89" cy="275.22" rx="3.16" ry="4.39" fill="#f0ff00"/><ellipse cx="354.89" cy="275.22" rx="2.16" ry="3.39" fill="#ff1000"/></g></g>
<g filter="url(#dsp)"><g><ellipse cx="365.67" cy="283.70" rx="6.39" ry="7.79" fill="#f0ff00"/><ellipse cx="365.67" cy="283.70" rx="5.39" ry="6.79" fill="#ff1000"/></g></g>
<g filter="url(#dsp)"><g><ellipse cx="360.28" cy="303.50" rx="9.19" ry="4.39" fill="#f0ff00"/><ellipse cx="360.28" cy="303.50" rx="8.19" ry="3.39" fill="#ff1000"/></g></g>
<g filter="url(#dsp)"><g><ellipse cx="358.12" cy="323.29" rx="7.47" ry="3.83" fill="#f0ff00"/><ellipse cx="358.12" cy="323.29" rx="6.47" ry="2.83" fill="#ff1000"/></g></g>
</g>
<text x="397.00" y="263.20" font-family="Liberation Serif" font-size="11" font-weight="normal" text-anchor="middle" fill="#000" >Day 60</text>
<rect x="373.90" y="268.40" width="51.40" height="58.30" fill="#0b0b0b"/>
<clipPath id="c160"><path d="M 387.01 269.57 C 390.71 269.57 391.86 275.22 392.10 280.88 L 396.26 283.14 L 396.72 285.97 L 393.95 287.10 C 396.26 291.06 398.11 297.84 398.11 308.02 C 398.11 314.81 397.18 319.33 395.80 321.59 L 398.11 325.55 L 391.17 325.55 L 387.01 323.85 L 382.84 325.55 L 375.90 325.55 L 378.22 321.59 C 376.83 319.33 375.90 314.81 375.90 308.02 C 375.90 297.84 377.75 291.06 380.07 287.10 L 377.29 285.97 L 377.75 283.14 L 381.92 280.88 C 382.15 275.22 383.31 269.57 387.01 269.57 Z"/></clipPath>
<g clip-path="url(#c160)">
<path fill="#2a1cff" d="M 387.01 269.57 C 390.71 269.57 391.86 275.22 392.10 280.88 L 396.26 283.14 L 396.72 285.97 L 393.95 287.10 C 396.26 291.06 398.11 297.84 398.11 308.02 C 398.11 314.81 397.18 319.33 395.80 321.59 L 398.11 325.55 L 391.17 325.55 L 387.01 323.85 L 382.84 325.55 L 375.90 325.55 L 378.22 321.59 C 376.83 319.33 375.90 314.81 375.90 308.02 C 375.90 297.84 377.75 291.06 380.07 287.10 L 377.29 285.97 L 377.75 283.14 L 381.92 280.88 C 382.15 275.22 383.31 269.57 387.01 269.57 Z"/>
<ellipse cx="387.01" cy="310.28" rx="10.41" ry="13.57" fill="#10d8ff" filter="url(#spk)"/>
<ellipse cx="387.01" cy="286.53" rx="6.94" ry="5.66" fill="#10d8ff" filter="url(#spk2)"/>
<g filter="url(#dsp)"><g><ellipse cx="385.85" cy="274.66" rx="4.24" ry="4.96" fill="#10d8ff"/><ellipse cx="385.85" cy="274.66" rx="3.24" ry="3.96" fill="#40ff20"/></g></g>
<g filter="url(#dsp)"><g><ellipse cx="385.85" cy="272.39" rx="4.62" ry="4.70" fill="#10d8ff"/><ellipse cx="385.85" cy="272.39" rx="3.62" ry="3.70" fill="#40ff20"/><ellipse cx="385.85" cy="272.39" rx="2.62" ry="2.70" fill="#f0ff00"/><ellipse cx="385.85" cy="272.39" rx="1.62" ry="1.70" fill="#ff1000"/></g></g>
<g filter="url(#dsp)"><g><ellipse cx="381.92" cy="284.83" rx="8.09" ry="4.98" fill="#10d8ff"/><ellipse cx="381.92" cy="284.83" rx="7.09" ry="3.98" fill="#40ff20"/><ellipse cx="381.92" cy="284.83" rx="6.09" ry="2.98" fill="#f0ff00"/><ellipse cx="381.92" cy="284.83" rx="5.09" ry="1.98" fill="#ff1000"/></g></g>
<g filter="url(#dsp)"><g><ellipse cx="383.54" cy="323.85" rx="5.31" ry="4.70" fill="#10d8ff"/><ellipse cx="383.54" cy="323.85" rx="4.31" ry="3.70" fill="#40ff20"/><ellipse cx="383.54" cy="323.85" rx="3.31" ry="2.70" fill="#f0ff00"/><ellipse cx="383.54" cy="323.85" rx="2.31" ry="1.70" fill="#ff1000"/></g></g>
<g filter="url(#dsp)"><g><ellipse cx="396.26" cy="280.88" rx="4.39" ry="5.83" fill="#10d8ff"/><ellipse cx="396.26" cy="280.88" rx="3.39" ry="4.83" fill="#40ff20"/><ellipse cx="396.26" cy="280.88" rx="2.39" ry="3.83" fill="#f0ff00"/><ellipse cx="396.26" cy="280.88" rx="1.39" ry="2.83" fill="#ff1000"/></g></g>
</g>
<clipPath id="c161"><path d="M 411.42 269.57 C 415.21 269.57 416.39 275.22 416.62 280.88 L 420.88 283.14 L 421.35 285.97 L 418.52 287.10 C 420.88 291.06 422.77 297.84 422.77 308.02 C 422.77 314.81 421.83 319.33 420.41 321.59 L 422.77 325.55 L 415.68 325.55 L 411.42 323.85 L 407.17 325.55 L 400.07 325.55 L 402.44 321.59 C 401.02 319.33 400.07 314.81 400.07 308.02 C 400.07 297.84 401.96 291.06 404.33 287.10 L 401.49 285.97 L 401.96 283.14 L 406.22 280.88 C 406.46 275.22 407.64 269.57 411.42 269.57 Z"/></clipPath>
<g clip-path="url(#c161)">
<path fill="#2a1cff" d="M 411.42 269.57 C 415.21 269.57 416.39 275.22 416.62 280.88 L 420.88 283.14 L 421.35 285.97 L 418.52 287.10 C 420.88 291.06 422.77 297.84 422.77 308.02 C 422.77 314.81 421.83 319.33 420.41 321.59 L 422.77 325.55 L 415.68 325.55 L 411.42 323.85 L 407.17 325.55 L 400.07 325.55 L 402.44 321.59 C 401.02 319.33 400.07 314.81 400.07 308.02 C 400.07 297.84 401.96 291.06 404.33 287.10 L 401.49 285.97 L 401.96 283.14 L 406.22 280.88 C 406.46 275.22 407.64 269.57 411.42 269.57 Z"/>
<ellipse cx="412.60" cy="295.01" rx="8.28" ry="12.44" fill="#10d8ff" filter="url(#spk2)"/>
<g filter="url(#dsp)"><g><ellipse cx="410.24" cy="275.22" rx="3.84" ry="4.39" fill="#10d8ff"/><ellipse cx="410.24" cy="275.22" rx="2.84" ry="3.39" fill="#40ff20"/></g></g>
<g filter="url(#dsp)"><g><ellipse cx="410.24" cy="272.96" rx="4.42" ry="4.70" fill="#10d8ff"/><ellipse cx="410.24" cy="272.96" rx="3.42" ry="3.70" fill="#40ff20"/><ellipse cx="410.24" cy="272.96" rx="2.42" ry="2.70" fill="#f0ff00"/><ellipse cx="410.24" cy="272.96" rx="1.42" ry="1.70" fill="#ff1000"/></g></g>
<g filter="url(#dsp)"><g><ellipse cx="418.04" cy="285.40" rx="4.89" ry="5.83" fill="#10d8ff"/><ellipse cx="418.04" cy="285.40" rx="3.89" ry="4.83" fill="#40ff20"/><ellipse cx="418.04" cy="285.40" rx="2.89" ry="3.83" fill="#f0ff00"/><ellipse cx="418.04" cy="285.40" rx="1.89" ry="2.83" fill="#ff1000"/></g></g>
<g filter="url(#dsp)"><g><ellipse cx="402.44" cy="315.94" rx="5.84" ry="5.26" fill="#10d8ff"/><ellipse cx="402.44" cy="315.94" rx="4.84" ry="4.26" fill="#40ff20"/><ellipse cx="402.44" cy="315.94" rx="3.84" ry="3.26" fill="#f0ff00"/><ellipse cx="402.44" cy="315.94" rx="2.84" ry="2.26" fill="#ff1000"/></g></g>
<g filter="url(#dsp)"><g><ellipse cx="407.88" cy="321.59" rx="5.84" ry="5.26" fill="#10d8ff"/><ellipse cx="407.88" cy="321.59" rx="4.84" ry="4.26" fill="#40ff20"/><ellipse cx="407.88" cy="321.59" rx="3.84" ry="3.26" fill="#f0ff00"/><ellipse cx="407.88" cy="321.59" rx="2.84" ry="2.26" fill="#ff1000"/></g></g>
<g filter="url(#dsp)"><g><ellipse cx="418.52" cy="309.15" rx="2.42" ry="3.83" fill="#10d8ff"/><ellipse cx="418.52" cy="309.15" rx="1.42" ry="2.83" fill="#10f0a0"/></g></g>
</g>
<text x="452.30" y="263.20" font-family="Liberation Serif" font-size="11" font-weight="normal" text-anchor="middle" fill="#000" >Day 120</text>
<rect x="425.30" y="268.40" width="47.60" height="58.30" fill="#0b0b0b"/>
<clipPath id="c170"><path d="M 438.63 269.57 C 441.98 269.57 443.03 275.22 443.24 280.88 L 447.01 283.14 L 447.42 285.97 L 444.91 287.10 C 447.01 291.06 448.68 297.84 448.68 308.02 C 448.68 314.81 447.84 319.33 446.59 321.59 L 448.68 325.55 L 442.40 325.55 L 438.63 323.85 L 434.86 325.55 L 428.57 325.55 L 430.67 321.59 C 429.41 319.33 428.57 314.81 428.57 308.02 C 428.57 297.84 430.25 291.06 432.34 287.10 L 429.83 285.97 L 430.25 283.14 L 434.02 280.88 C 434.23 275.22 435.28 269.57 438.63 269.57 Z"/></clipPath>
<g clip-path="url(#c170)">
<path fill="#a8a8a8" d="M 438.63 269.57 C 441.98 269.57 443.03 275.22 443.24 280.88 L 447.01 283.14 L 447.42 285.97 L 444.91 287.10 C 447.01 291.06 448.68 297.84 448.68 308.02 C 448.68 314.81 447.84 319.33 446.59 321.59 L 448.68 325.55 L 442.40 325.55 L 438.63 323.85 L 434.86 325.55 L 428.57 325.55 L 430.67 321.59 C 429.41 319.33 428.57 314.81 428.57 308.02 C 428.57 297.84 430.25 291.06 432.34 287.10 L 429.83 285.97 L 430.25 283.14 L 434.02 280.88 C 434.23 275.22 435.28 269.57 438.63 269.57 Z"/>
<path fill="#e2e2e2" d="M 438.63 270.97 C 441.53 270.97 442.44 276.34 442.62 281.72 L 445.89 283.87 L 446.25 286.55 L 444.07 287.63 C 445.89 291.39 447.34 297.84 447.34 307.52 C 447.34 313.97 446.61 318.27 445.52 320.42 L 447.34 324.18 L 441.89 324.18 L 438.63 322.57 L 435.36 324.18 L 429.92 324.18 L 431.73 320.42 C 430.64 318.27 429.92 313.97 429.92 307.52 C 429.92 297.84 431.37 291.39 433.18 287.63 L 431.01 286.55 L 431.37 283.87 L 434.64 281.72 C 434.82 276.34 435.72 270.97 438.63 270.97 Z"/>
<ellipse cx="438.63" cy="285.40" rx="10.47" ry="11.31" fill="#6a28ea" filter="url(#spk)"/>
<ellipse cx="438.63" cy="310.28" rx="10.47" ry="14.14" fill="#6a28ea" filter="url(#spk3)"/>
<ellipse cx="438.63" cy="310.28" rx="9.42" ry="11.31" fill="#2a1cff" filter="url(#spk)"/>
<g filter="url(#dsp)"><g><ellipse cx="439.68" cy="274.09" rx="2.51" ry="2.83" fill="#2a1cff"/></g></g>
<g filter="url(#dsp)"><g><ellipse cx="437.58" cy="287.66" rx="3.14" ry="2.26" fill="#2a1cff"/></g></g>
<g filter="url(#dsp)"><g><ellipse cx="437.58" cy="323.29" rx="3.05" ry="3.70" fill="#2a1cff"/><ellipse cx="437.58" cy="323.29" rx="2.05" ry="2.70" fill="#10d8ff"/><ellipse cx="437.58" cy="323.29" rx="1.05" ry="1.70" fill="#10f0a0"/></g></g>
</g>
<clipPath id="c171"><path d="M 459.81 269.57 C 463.24 269.57 464.31 275.22 464.52 280.88 L 468.38 283.14 L 468.81 285.97 L 466.24 287.10 C 468.38 291.06 470.09 297.84 470.09 308.02 C 470.09 314.81 469.23 319.33 467.95 321.59 L 470.09 325.55 L 463.67 325.55 L 459.81 323.85 L 455.95 325.55 L 449.53 325.55 L 451.67 321.59 C 450.39 319.33 449.53 314.81 449.53 308.02 C 449.53 297.84 451.24 291.06 453.38 287.10 L 450.81 285.97 L 451.24 283.14 L 455.10 280.88 C 455.31 275.22 456.38 269.57 459.81 269.57 Z"/></clipPath>
<g clip-path="url(#c171)">
<path fill="#a8a8a8" d="M 459.81 269.57 C 463.24 269.57 464.31 275.22 464.52 280.88 L 468.38 283.14 L 468.81 285.97 L 466.24 287.10 C 468.38 291.06 470.09 297.84 470.09 308.02 C 470.09 314.81 469.23 319.33 467.95 321.59 L 470.09 325.55 L 463.67 325.55 L 459.81 323.85 L 455.95 325.55 L 449.53 325.55 L 451.67 321.59 C 450.39 319.33 449.53 314.81 449.53 308.02 C 449.53 297.84 451.24 291.06 453.38 287.10 L 450.81 285.97 L 451.24 283.14 L 455.10 280.88 C 455.31 275.22 456.38 269.57 459.81 269.57 Z"/>
<path fill="#e2e2e2" d="M 459.81 270.97 C 462.79 270.97 463.72 276.34 463.91 281.72 L 467.26 283.87 L 467.63 286.55 L 465.40 287.63 C 467.26 291.39 468.75 297.84 468.75 307.52 C 468.75 313.97 468.00 318.27 466.89 320.42 L 468.75 324.18 L 463.16 324.18 L 459.81 322.57 L 456.46 324.18 L 450.87 324.18 L 452.73 320.42 C 451.62 318.27 450.87 313.97 450.87 307.52 C 450.87 297.84 452.36 291.39 454.22 287.63 L 451.99 286.55 L 452.36 283.87 L 455.71 281.72 C 455.90 276.34 456.83 270.97 459.81 270.97 Z"/>
<ellipse cx="459.81" cy="286.53" rx="10.71" ry="14.14" fill="#6a28ea" filter="url(#spk)"/>
<ellipse cx="459.81" cy="310.28" rx="10.71" ry="14.14" fill="#6a28ea" filter="url(#spk3)"/>
<ellipse cx="459.81" cy="280.88" rx="6.43" ry="5.66" fill="#2a1cff" filter="url(#spk2)"/>
<g filter="url(#dsp)"><g><ellipse cx="457.67" cy="272.96" rx="2.14" ry="2.83" fill="#2a1cff"/></g></g>
<g filter="url(#dsp)"><g><ellipse cx="464.09" cy="310.28" rx="3.14" ry="3.83" fill="#2a1cff"/><ellipse cx="464.09" cy="310.28" rx="2.14" ry="2.83" fill="#10d8ff"/></g></g>
</g>
<rect x="487.1" y="162.1" width="8.7" height="143" fill="url(#cbar)" stroke="#333" stroke-width="0.6"/>
<line x1="495.80" y1="304.10" x2="497.60" y2="304.10" stroke="#333" stroke-width="0.6" />
<line x1="495.80" y1="298.85" x2="497.60" y2="298.85" stroke="#333" stroke-width="0.6" />
<line x1="495.80" y1="293.60" x2="499.30" y2="293.60" stroke="#333" stroke-width="0.6" />
<text x="501.60" y="295.60" font-family="Liberation Sans" font-size="5.5" font-weight="normal" text-anchor="start" fill="#333" >5000</text>
<line x1="495.80" y1="288.35" x2="497.60" y2="288.35" stroke="#333" stroke-width="0.6" />
<line x1="495.80" y1="283.10" x2="497.60" y2="283.10" stroke="#333" stroke-width="0.6" />
<line x1="495.80" y1="277.84" x2="497.60" y2="277.84" stroke="#333" stroke-width="0.6" />
<line x1="495.80" y1="272.59" x2="497.60" y2="272.59" stroke="#333" stroke-width="0.6" />
<line x1="495.80" y1="267.34" x2="499.30" y2="267.34" stroke="#333" stroke-width="0.6" />
<text x="501.60" y="269.34" font-family="Liberation Sans" font-size="5.5" font-weight="normal" text-anchor="start" fill="#333" >10000</text>
<line x1="495.80" y1="262.09" x2="497.60" y2="262.09" stroke="#333" stroke-width="0.6" />
<line x1="495.80" y1="256.84" x2="497.60" y2="256.84" stroke="#333" stroke-width="0.6" />
<line x1="495.80" y1="251.58" x2="497.60" y2="251.58" stroke="#333" stroke-width="0.6" />
<line x1="495.80" y1="246.33" x2="497.60" y2="246.33" stroke="#333" stroke-width="0.6" />
<line x1="495.80" y1="241.08" x2="499.30" y2="241.08" stroke="#333" stroke-width="0.6" />
<text x="501.60" y="243.08" font-family="Liberation Sans" font-size="5.5" font-weight="normal" text-anchor="start" fill="#333" >15000</text>
<line x1="495.80" y1="235.83" x2="497.60" y2="235.83" stroke="#333" stroke-width="0.6" />
<line x1="495.80" y1="230.58" x2="497.60" y2="230.58" stroke="#333" stroke-width="0.6" />
<line x1="495.80" y1="225.32" x2="497.60" y2="225.32" stroke="#333" stroke-width="0.6" />
<line x1="495.80" y1="220.07" x2="497.60" y2="220.07" stroke="#333" stroke-width="0.6" />
<line x1="495.80" y1="214.82" x2="499.30" y2="214.82" stroke="#333" stroke-width="0.6" />
<text x="501.60" y="216.82" font-family="Liberation Sans" font-size="5.5" font-weight="normal" text-anchor="start" fill="#333" >20000</text>
<line x1="495.80" y1="209.57" x2="497.60" y2="209.57" stroke="#333" stroke-width="0.6" />
<line x1="495.80" y1="204.32" x2="497.60" y2="204.32" stroke="#333" stroke-width="0.6" />
<line x1="495.80" y1="199.06" x2="497.60" y2="199.06" stroke="#333" stroke-width="0.6" />
<line x1="495.80" y1="193.81" x2="497.60" y2="193.81" stroke="#333" stroke-width="0.6" />
<line x1="495.80" y1="188.56" x2="499.30" y2="188.56" stroke="#333" stroke-width="0.6" />
<text x="501.60" y="190.56" font-family="Liberation Sans" font-size="5.5" font-weight="normal" text-anchor="start" fill="#333" >25000</text>
<line x1="495.80" y1="183.31" x2="497.60" y2="183.31" stroke="#333" stroke-width="0.6" />
<line x1="495.80" y1="178.06" x2="497.60" y2="178.06" stroke="#333" stroke-width="0.6" />
<line x1="495.80" y1="172.80" x2="497.60" y2="172.80" stroke="#333" stroke-width="0.6" />
<line x1="495.80" y1="167.55" x2="497.60" y2="167.55" stroke="#333" stroke-width="0.6" />
<line x1="495.80" y1="162.30" x2="499.30" y2="162.30" stroke="#333" stroke-width="0.6" />
<text x="501.60" y="164.30" font-family="Liberation Sans" font-size="5.5" font-weight="normal" text-anchor="start" fill="#333" >30000</text>
<rect x="486.20" y="307.20" width="31.40" height="18.30" fill="#fff" stroke="#333" stroke-width="0.6" />
<text x="501.90" y="312.80" font-family="Liberation Sans" font-size="5.0" font-weight="normal" text-anchor="middle" fill="#222" >Color Bar</text>
<text x="501.90" y="318.40" font-family="Liberation Sans" font-size="5.0" font-weight="normal" text-anchor="middle" fill="#222" >Min = 3000</text>
<text x="501.90" y="324.00" font-family="Liberation Sans" font-size="5.0" font-weight="normal" text-anchor="middle" fill="#222" >Max = 30000</text>
<text x="0.50" y="354.00" font-family="Liberation Sans" font-size="12" font-weight="bold" text-anchor="start" fill="#000" >C</text>
<line x1="93.70" y1="362.20" x2="93.70" y2="471.50" stroke="#000" stroke-width="1.6" />
<line x1="93.00" y1="470.80" x2="307.50" y2="470.80" stroke="#000" stroke-width="1.6" />
<line x1="90.20" y1="470.80" x2="93.70" y2="470.80" stroke="#000" stroke-width="1.4" />
<text x="89.40" y="473.60" font-family="Liberation Sans" font-size="7.8" font-weight="bold" text-anchor="end" fill="#000" >0</text>
<line x1="90.20" y1="417.00" x2="93.70" y2="417.00" stroke="#000" stroke-width="1.4" />
<text x="89.40" y="419.80" font-family="Liberation Sans" font-size="7.8" font-weight="bold" text-anchor="end" fill="#000" >10000000</text>
<line x1="90.20" y1="363.20" x2="93.70" y2="363.20" stroke="#000" stroke-width="1.4" />
<text x="89.40" y="366.00" font-family="Liberation Sans" font-size="7.8" font-weight="bold" text-anchor="end" fill="#000" >20000000</text>
<line x1="93.70" y1="470.80" x2="93.70" y2="474.30" stroke="#000" stroke-width="1.4" />
<text x="93.70" y="483.00" font-family="Liberation Sans" font-size="7.9" font-weight="bold" text-anchor="middle" fill="#000" >0</text>
<line x1="136.32" y1="470.80" x2="136.32" y2="474.30" stroke="#000" stroke-width="1.4" />
<text x="136.32" y="483.00" font-family="Liberation Sans" font-size="7.9" font-weight="bold" text-anchor="middle" fill="#000" >25</text>
<line x1="178.94" y1="470.80" x2="178.94" y2="474.30" stroke="#000" stroke-width="1.4" />
<text x="178.94" y="483.00" font-family="Liberation Sans" font-size="7.9" font-weight="bold" text-anchor="middle" fill="#000" >50</text>
<line x1="221.56" y1="470.80" x2="221.56" y2="474.30" stroke="#000" stroke-width="1.4" />
<text x="221.56" y="483.00" font-family="Liberation Sans" font-size="7.9" font-weight="bold" text-anchor="middle" fill="#000" >75</text>
<line x1="264.18" y1="470.80" x2="264.18" y2="474.30" stroke="#000" stroke-width="1.4" />
<text x="264.18" y="483.00" font-family="Liberation Sans" font-size="7.9" font-weight="bold" text-anchor="middle" fill="#000" >100</text>
<line x1="306.80" y1="470.80" x2="306.80" y2="474.30" stroke="#000" stroke-width="1.4" />
<text x="306.80" y="483.00" font-family="Liberation Sans" font-size="7.9" font-weight="bold" text-anchor="middle" fill="#000" >125</text>
<text x="202.20" y="494.60" font-family="Liberation Sans" font-size="9.1" font-weight="bold" text-anchor="middle" fill="#000" >Days After BMT</text>
<text x="0.00" y="0.00" font-family="Liberation Sans" font-size="9" font-weight="bold" text-anchor="middle" fill="#000" transform="translate(50.6,416.1) rotate(-90)">Photons/Second/Mouse</text>
<polyline fill="none" stroke="#000" stroke-width="1.2" points="95.06,468.11 99.67,467.57 105.63,467.57 110.75,467.57 114.16,467.57 117.57,467.57 122.68,467.57 131.21,467.57 141.43,467.57 165.30,467.03 187.46,467.57 199.40,467.57 298.28,467.57"/>
<polyline fill="none" stroke="#000" stroke-width="1.0" points="95.06,467.57 99.67,467.57 105.63,463.81 110.75,455.74 114.16,454.66 117.57,458.43 122.68,446.05 131.21,448.74 141.43,451.97 165.30,458.43 187.46,455.20 199.40,460.58 298.28,463.27"/>
<polyline fill="none" stroke="#000" stroke-width="2.0" points="95.06,466.50 99.67,464.34 102.22,442.29 103.93,415.92 106.49,424.53 110.75,421.30 114.16,424.53 117.57,400.32 122.68,419.69 131.21,411.62 141.43,437.44 165.30,439.06 187.46,454.66 199.40,452.51 298.28,459.50"/>
<line x1="103.93" y1="400.86" x2="103.93" y2="427.76" stroke="#000" stroke-width="1.1" />
<line x1="101.73" y1="400.86" x2="106.13" y2="400.86" stroke="#000" stroke-width="1.1" />
<line x1="101.73" y1="427.76" x2="106.13" y2="427.76" stroke="#000" stroke-width="1.1" />
<line x1="110.75" y1="411.62" x2="110.75" y2="430.45" stroke="#000" stroke-width="1.1" />
<line x1="108.55" y1="411.62" x2="112.95" y2="411.62" stroke="#000" stroke-width="1.1" />
<line x1="108.55" y1="430.45" x2="112.95" y2="430.45" stroke="#000" stroke-width="1.1" />
<line x1="114.16" y1="417.00" x2="114.16" y2="436.91" stroke="#000" stroke-width="1.1" />
<line x1="111.96" y1="417.00" x2="116.36" y2="417.00" stroke="#000" stroke-width="1.1" />
<line x1="111.96" y1="436.91" x2="116.36" y2="436.91" stroke="#000" stroke-width="1.1" />
<line x1="117.57" y1="392.79" x2="117.57" y2="407.32" stroke="#000" stroke-width="1.1" />
<line x1="115.37" y1="392.79" x2="119.77" y2="392.79" stroke="#000" stroke-width="1.1" />
<line x1="115.37" y1="407.32" x2="119.77" y2="407.32" stroke="#000" stroke-width="1.1" />
<line x1="131.21" y1="399.78" x2="131.21" y2="424.53" stroke="#000" stroke-width="1.1" />
<line x1="129.01" y1="399.78" x2="133.41" y2="399.78" stroke="#000" stroke-width="1.1" />
<line x1="129.01" y1="424.53" x2="133.41" y2="424.53" stroke="#000" stroke-width="1.1" />
<line x1="141.43" y1="426.68" x2="141.43" y2="449.28" stroke="#000" stroke-width="1.1" />
<line x1="139.23" y1="426.68" x2="143.63" y2="426.68" stroke="#000" stroke-width="1.1" />
<line x1="139.23" y1="449.28" x2="143.63" y2="449.28" stroke="#000" stroke-width="1.1" />
<line x1="165.30" y1="430.99" x2="165.30" y2="446.05" stroke="#000" stroke-width="1.1" />
<line x1="163.10" y1="430.99" x2="167.50" y2="430.99" stroke="#000" stroke-width="1.1" />
<line x1="163.10" y1="446.05" x2="167.50" y2="446.05" stroke="#000" stroke-width="1.1" />
<line x1="187.46" y1="449.82" x2="187.46" y2="459.50" stroke="#000" stroke-width="1.1" />
<line x1="185.26" y1="449.82" x2="189.66" y2="449.82" stroke="#000" stroke-width="1.1" />
<line x1="185.26" y1="459.50" x2="189.66" y2="459.50" stroke="#000" stroke-width="1.1" />
<line x1="298.28" y1="454.12" x2="298.28" y2="462.73" stroke="#000" stroke-width="1.1" />
<line x1="296.08" y1="454.12" x2="300.48" y2="454.12" stroke="#000" stroke-width="1.1" />
<line x1="296.08" y1="462.73" x2="300.48" y2="462.73" stroke="#000" stroke-width="1.1" />
<line x1="110.75" y1="453.05" x2="110.75" y2="458.96" stroke="#000" stroke-width="1.1" />
<line x1="108.55" y1="453.05" x2="112.95" y2="453.05" stroke="#000" stroke-width="1.1" />
<line x1="108.55" y1="458.96" x2="112.95" y2="458.96" stroke="#000" stroke-width="1.1" />
<line x1="122.68" y1="444.98" x2="122.68" y2="448.74" stroke="#000" stroke-width="1.1" />
<line x1="120.48" y1="444.98" x2="124.88" y2="444.98" stroke="#000" stroke-width="1.1" />
<line x1="120.48" y1="448.74" x2="124.88" y2="448.74" stroke="#000" stroke-width="1.1" />
<line x1="131.21" y1="446.05" x2="131.21" y2="451.43" stroke="#000" stroke-width="1.1" />
<line x1="129.01" y1="446.05" x2="133.41" y2="446.05" stroke="#000" stroke-width="1.1" />
<line x1="129.01" y1="451.43" x2="133.41" y2="451.43" stroke="#000" stroke-width="1.1" />
<line x1="141.43" y1="448.20" x2="141.43" y2="456.81" stroke="#000" stroke-width="1.1" />
<line x1="139.23" y1="448.20" x2="143.63" y2="448.20" stroke="#000" stroke-width="1.1" />
<line x1="139.23" y1="456.81" x2="143.63" y2="456.81" stroke="#000" stroke-width="1.1" />
<rect x="93.06" y="466.11" width="4.00" height="4.00" fill="none" stroke="#000" stroke-width="1.1" />
<rect x="97.67" y="465.57" width="4.00" height="4.00" fill="none" stroke="#000" stroke-width="1.1" />
<rect x="103.63" y="465.57" width="4.00" height="4.00" fill="none" stroke="#000" stroke-width="1.1" />
<rect x="108.75" y="465.57" width="4.00" height="4.00" fill="none" stroke="#000" stroke-width="1.1" />
<rect x="112.16" y="465.57" width="4.00" height="4.00" fill="none" stroke="#000" stroke-width="1.1" />
<rect x="115.57" y="465.57" width="4.00" height="4.00" fill="none" stroke="#000" stroke-width="1.1" />
<rect x="120.68" y="465.57" width="4.00" height="4.00" fill="none" stroke="#000" stroke-width="1.1" />
<rect x="129.21" y="465.57" width="4.00" height="4.00" fill="none" stroke="#000" stroke-width="1.1" />
<rect x="139.43" y="465.57" width="4.00" height="4.00" fill="none" stroke="#000" stroke-width="1.1" />
<rect x="163.30" y="465.03" width="4.00" height="4.00" fill="none" stroke="#000" stroke-width="1.1" />
<rect x="185.46" y="465.57" width="4.00" height="4.00" fill="none" stroke="#000" stroke-width="1.1" />
<rect x="197.40" y="465.57" width="4.00" height="4.00" fill="none" stroke="#000" stroke-width="1.1" />
<rect x="296.28" y="465.57" width="4.00" height="4.00" fill="none" stroke="#000" stroke-width="1.1" />
<polygon points="92.66,465.57 97.46,465.57 95.06,469.97" fill="#fff" stroke="#000" stroke-width="0.9"/>
<polygon points="97.27,465.57 102.07,465.57 99.67,469.97" fill="#fff" stroke="#000" stroke-width="0.9"/>
<polygon points="103.23,461.81 108.03,461.81 105.63,466.21" fill="#fff" stroke="#000" stroke-width="0.9"/>
<polygon points="108.35,453.74 113.15,453.74 110.75,458.14" fill="#fff" stroke="#000" stroke-width="0.9"/>
<polygon points="111.76,452.66 116.56,452.66 114.16,457.06" fill="#fff" stroke="#000" stroke-width="0.9"/>
<polygon points="115.17,456.43 119.97,456.43 117.57,460.83" fill="#fff" stroke="#000" stroke-width="0.9"/>
<polygon points="120.28,444.05 125.08,444.05 122.68,448.45" fill="#fff" stroke="#000" stroke-width="0.9"/>
<polygon points="128.81,446.74 133.61,446.74 131.21,451.14" fill="#fff" stroke="#000" stroke-width="0.9"/>
<polygon points="139.03,449.97 143.83,449.97 141.43,454.37" fill="#fff" stroke="#000" stroke-width="0.9"/>
<polygon points="162.90,456.43 167.70,456.43 165.30,460.83" fill="#fff" stroke="#000" stroke-width="0.9"/>
<polygon points="185.06,453.20 189.86,453.20 187.46,457.60" fill="#fff" stroke="#000" stroke-width="0.9"/>
<polygon points="197.00,458.58 201.80,458.58 199.40,462.98" fill="#fff" stroke="#000" stroke-width="0.9"/>
<polygon points="295.88,461.27 300.68,461.27 298.28,465.67" fill="#fff" stroke="#000" stroke-width="0.9"/>
<rect x="92.66" y="464.10" width="4.80" height="4.80" fill="#000" stroke="none" stroke-width="0" />
<rect x="97.27" y="461.94" width="4.80" height="4.80" fill="#000" stroke="none" stroke-width="0" />
<rect x="99.82" y="439.89" width="4.80" height="4.80" fill="#000" stroke="none" stroke-width="0" />
<rect x="101.53" y="413.52" width="4.80" height="4.80" fill="#000" stroke="none" stroke-width="0" />
<rect x="104.09" y="422.13" width="4.80" height="4.80" fill="#000" stroke="none" stroke-width="0" />
<rect x="108.35" y="418.90" width="4.80" height="4.80" fill="#000" stroke="none" stroke-width="0" />
<rect x="111.76" y="422.13" width="4.80" height="4.80" fill="#000" stroke="none" stroke-width="0" />
<rect x="115.17" y="397.92" width="4.80" height="4.80" fill="#000" stroke="none" stroke-width="0" />
<rect x="120.28" y="417.29" width="4.80" height="4.80" fill="#000" stroke="none" stroke-width="0" />
<rect x="128.81" y="409.22" width="4.80" height="4.80" fill="#000" stroke="none" stroke-width="0" />
<rect x="139.03" y="435.04" width="4.80" height="4.80" fill="#000" stroke="none" stroke-width="0" />
<rect x="162.90" y="436.66" width="4.80" height="4.80" fill="#000" stroke="none" stroke-width="0" />
<rect x="185.06" y="452.26" width="4.80" height="4.80" fill="#000" stroke="none" stroke-width="0" />
<rect x="197.00" y="450.11" width="4.80" height="4.80" fill="#000" stroke="none" stroke-width="0" />
<rect x="295.88" y="457.10" width="4.80" height="4.80" fill="#000" stroke="none" stroke-width="0" />
<line x1="209.00" y1="373.70" x2="224.40" y2="373.70" stroke="#000" stroke-width="2.0" />
<rect x="214.40" y="371.40" width="4.60" height="4.60" fill="#000" stroke="none" stroke-width="0" />
<text x="227.10" y="377.00" font-family="Liberation Sans" font-size="9.1" font-weight="normal" text-anchor="start" fill="#000" >Major CIK</text>
<line x1="209.00" y1="384.20" x2="224.40" y2="384.20" stroke="#000" stroke-width="1.0" />
<polygon points="214.40,382.30 219.00,382.30 216.70,386.50" fill="#fff" stroke="#000" stroke-width="0.9"/>
<text x="227.10" y="387.50" font-family="Liberation Sans" font-size="9.1" font-weight="normal" text-anchor="start" fill="#000" >Minor CIK</text>
<line x1="209.00" y1="393.90" x2="224.40" y2="393.90" stroke="#000" stroke-width="1.0" />
<rect x="214.50" y="391.70" width="4.40" height="4.40" fill="#fff" stroke="#000" stroke-width="1.0" />
<text x="227.10" y="397.20" font-family="Liberation Sans" font-size="9.1" font-weight="normal" text-anchor="start" fill="#000" >Background</text>
<text x="1.50" y="517.30" font-family="Liberation Sans" font-size="11" font-weight="bold" text-anchor="start" fill="#000" >D</text>
<line x1="92.90" y1="527.20" x2="92.90" y2="644.30" stroke="#000" stroke-width="1.6" />
<line x1="88.90" y1="527.70" x2="92.90" y2="527.70" stroke="#000" stroke-width="1.4" />
<text x="88.20" y="530.60" font-family="Liberation Sans" font-size="8" font-weight="bold" text-anchor="end" fill="#000" >10</text>
<line x1="88.90" y1="556.60" x2="92.90" y2="556.60" stroke="#000" stroke-width="1.4" />
<text x="88.20" y="559.50" font-family="Liberation Sans" font-size="8" font-weight="bold" text-anchor="end" fill="#000" >0</text>
<line x1="88.90" y1="585.50" x2="92.90" y2="585.50" stroke="#000" stroke-width="1.4" />
<text x="88.20" y="588.40" font-family="Liberation Sans" font-size="8" font-weight="bold" text-anchor="end" fill="#000" >-10</text>
<line x1="88.90" y1="614.40" x2="92.90" y2="614.40" stroke="#000" stroke-width="1.4" />
<text x="88.20" y="617.30" font-family="Liberation Sans" font-size="8" font-weight="bold" text-anchor="end" fill="#000" >-20</text>
<line x1="88.90" y1="643.30" x2="92.90" y2="643.30" stroke="#000" stroke-width="1.4" />
<text x="88.20" y="646.20" font-family="Liberation Sans" font-size="8" font-weight="bold" text-anchor="end" fill="#000" >-30</text>
<text x="0.00" y="0.00" font-family="Liberation Sans" font-size="9.8" font-weight="bold" text-anchor="middle" fill="#000" transform="translate(71,587.5) rotate(-90)">% BW change</text>
<line x1="92.90" y1="556.60" x2="305.00" y2="556.60" stroke="#000" stroke-width="1.6" />
<line x1="304.40" y1="555.80" x2="304.40" y2="560.10" stroke="#000" stroke-width="1.4" />
<line x1="135.40" y1="556.60" x2="135.40" y2="560.10" stroke="#000" stroke-width="1.4" />
<line x1="177.90" y1="556.60" x2="177.90" y2="560.10" stroke="#000" stroke-width="1.4" />
<line x1="220.40" y1="556.60" x2="220.40" y2="560.10" stroke="#000" stroke-width="1.4" />
<line x1="262.90" y1="556.60" x2="262.90" y2="560.10" stroke="#000" stroke-width="1.4" />
<text x="133.50" y="569.50" font-family="Liberation Serif" font-size="10" font-weight="normal" text-anchor="middle" fill="#000" stroke="#000" stroke-width="0.35">25</text>
<text x="178.00" y="569.80" font-family="Liberation Serif" font-size="10" font-weight="normal" text-anchor="middle" fill="#000" stroke="#000" stroke-width="0.35">50</text>
<text x="219.90" y="569.20" font-family="Liberation Sans" font-size="8" font-weight="bold" text-anchor="middle" fill="#000" >75</text>
<text x="262.40" y="569.20" font-family="Liberation Sans" font-size="8" font-weight="bold" text-anchor="middle" fill="#000" >100</text>
<text x="304.90" y="569.20" font-family="Liberation Sans" font-size="8" font-weight="bold" text-anchor="middle" fill="#000" >125</text>
<text x="262.40" y="588.10" font-family="Liberation Sans" font-size="10.95" font-weight="bold" text-anchor="middle" fill="#000" >Days after BMT</text>
<polyline fill="none" stroke="#000" stroke-width="1.0" points="93.00,556.50 94.80,566.00 96.60,576.00 99.70,593.80 101.20,599.40 102.40,587.70 105.30,575.30 109.60,575.30 113.30,574.00 117.00,575.30 121.30,564.80 130.00,562.80 140.00,562.80 151.50,553.80 163.10,558.80 184.60,547.60 199.80,552.00 296.50,542.50"/>
<polyline fill="none" stroke="#000" stroke-width="1.0" points="93.00,556.50 95.30,567.30 96.20,580.50 99.10,592.60 101.00,596.90 105.30,575.30 109.60,579.00 113.30,580.20 117.00,582.70 121.30,585.80 130.00,592.30 140.00,592.30 152.30,583.00 163.80,581.20 184.60,568.50 199.60,564.50 297.00,556.50"/>
<polyline fill="none" stroke="#000" stroke-width="2.2" points="93.00,556.50 94.30,566.00 95.20,576.00 96.20,586.00 97.30,596.00 98.50,603.00 99.90,609.00 102.50,614.50 104.20,618.00 106.00,620.50 109.60,610.00 113.20,598.50 116.50,593.50 120.00,591.20 122.50,590.00 130.20,574.00 139.80,566.20 152.30,582.80 163.80,596.50 184.50,588.70 199.60,558.80 297.00,557.00"/>
<rect x="92.90" y="564.10" width="3.80" height="3.80" fill="none" stroke="#000" stroke-width="1.0" />
<rect x="94.70" y="574.10" width="3.80" height="3.80" fill="none" stroke="#000" stroke-width="1.0" />
<rect x="97.80" y="591.90" width="3.80" height="3.80" fill="none" stroke="#000" stroke-width="1.0" />
<rect x="99.30" y="597.50" width="3.80" height="3.80" fill="none" stroke="#000" stroke-width="1.0" />
<rect x="100.50" y="585.80" width="3.80" height="3.80" fill="none" stroke="#000" stroke-width="1.0" />
<rect x="103.40" y="573.40" width="3.80" height="3.80" fill="none" stroke="#000" stroke-width="1.0" />
<rect x="107.70" y="573.40" width="3.80" height="3.80" fill="none" stroke="#000" stroke-width="1.0" />
<rect x="111.40" y="572.10" width="3.80" height="3.80" fill="none" stroke="#000" stroke-width="1.0" />
<rect x="115.10" y="573.40" width="3.80" height="3.80" fill="none" stroke="#000" stroke-width="1.0" />
<rect x="119.40" y="562.90" width="3.80" height="3.80" fill="none" stroke="#000" stroke-width="1.0" />
<rect x="128.10" y="560.90" width="3.80" height="3.80" fill="none" stroke="#000" stroke-width="1.0" />
<rect x="138.10" y="560.90" width="3.80" height="3.80" fill="none" stroke="#000" stroke-width="1.0" />
<rect x="149.60" y="551.90" width="3.80" height="3.80" fill="none" stroke="#000" stroke-width="1.0" />
<rect x="161.20" y="556.90" width="3.80" height="3.80" fill="none" stroke="#000" stroke-width="1.0" />
<rect x="182.70" y="545.70" width="3.80" height="3.80" fill="none" stroke="#000" stroke-width="1.0" />
<rect x="197.90" y="550.10" width="3.80" height="3.80" fill="none" stroke="#000" stroke-width="1.0" />
<rect x="294.60" y="540.60" width="3.80" height="3.80" fill="none" stroke="#000" stroke-width="1.0" />
<polygon points="92.90,565.30 97.70,565.30 95.30,569.70" fill="#fff" stroke="#000" stroke-width="0.9"/>
<polygon points="93.80,578.50 98.60,578.50 96.20,582.90" fill="#fff" stroke="#000" stroke-width="0.9"/>
<polygon points="96.70,590.60 101.50,590.60 99.10,595.00" fill="#fff" stroke="#000" stroke-width="0.9"/>
<polygon points="98.60,594.90 103.40,594.90 101.00,599.30" fill="#fff" stroke="#000" stroke-width="0.9"/>
<polygon points="102.90,573.30 107.70,573.30 105.30,577.70" fill="#fff" stroke="#000" stroke-width="0.9"/>
<polygon points="107.20,577.00 112.00,577.00 109.60,581.40" fill="#fff" stroke="#000" stroke-width="0.9"/>
<polygon points="110.90,578.20 115.70,578.20 113.30,582.60" fill="#fff" stroke="#000" stroke-width="0.9"/>
<polygon points="114.60,580.70 119.40,580.70 117.00,585.10" fill="#fff" stroke="#000" stroke-width="0.9"/>
<polygon points="118.90,583.80 123.70,583.80 121.30,588.20" fill="#fff" stroke="#000" stroke-width="0.9"/>
<polygon points="127.60,590.30 132.40,590.30 130.00,594.70" fill="#fff" stroke="#000" stroke-width="0.9"/>
<polygon points="137.60,590.30 142.40,590.30 140.00,594.70" fill="#fff" stroke="#000" stroke-width="0.9"/>
<polygon points="149.90,581.00 154.70,581.00 152.30,585.40" fill="#fff" stroke="#000" stroke-width="0.9"/>
<polygon points="161.40,579.20 166.20,579.20 163.80,583.60" fill="#fff" stroke="#000" stroke-width="0.9"/>
<polygon points="182.20,566.50 187.00,566.50 184.60,570.90" fill="#fff" stroke="#000" stroke-width="0.9"/>
<polygon points="197.20,562.50 202.00,562.50 199.60,566.90" fill="#fff" stroke="#000" stroke-width="0.9"/>
<polygon points="294.60,554.50 299.40,554.50 297.00,558.90" fill="#fff" stroke="#000" stroke-width="0.9"/>
<rect x="90.50" y="554.00" width="5.00" height="5.00" fill="#000" stroke="none" stroke-width="0" />
<rect x="91.80" y="563.50" width="5.00" height="5.00" fill="#000" stroke="none" stroke-width="0" />
<rect x="92.70" y="573.50" width="5.00" height="5.00" fill="#000" stroke="none" stroke-width="0" />
<rect x="93.70" y="583.50" width="5.00" height="5.00" fill="#000" stroke="none" stroke-width="0" />
<rect x="94.80" y="593.50" width="5.00" height="5.00" fill="#000" stroke="none" stroke-width="0" />
<rect x="96.00" y="600.50" width="5.00" height="5.00" fill="#000" stroke="none" stroke-width="0" />
<rect x="97.40" y="606.50" width="5.00" height="5.00" fill="#000" stroke="none" stroke-width="0" />
<rect x="100.00" y="612.00" width="5.00" height="5.00" fill="#000" stroke="none" stroke-width="0" />
<rect x="101.70" y="615.50" width="5.00" height="5.00" fill="#000" stroke="none" stroke-width="0" />
<rect x="103.50" y="618.00" width="5.00" height="5.00" fill="#000" stroke="none" stroke-width="0" />
<rect x="107.10" y="607.50" width="5.00" height="5.00" fill="#000" stroke="none" stroke-width="0" />
<rect x="110.70" y="596.00" width="5.00" height="5.00" fill="#000" stroke="none" stroke-width="0" />
<rect x="114.00" y="591.00" width="5.00" height="5.00" fill="#000" stroke="none" stroke-width="0" />
<rect x="117.50" y="588.70" width="5.00" height="5.00" fill="#000" stroke="none" stroke-width="0" />
<rect x="120.00" y="587.50" width="5.00" height="5.00" fill="#000" stroke="none" stroke-width="0" />
<rect x="127.70" y="571.50" width="5.00" height="5.00" fill="#000" stroke="none" stroke-width="0" />
<rect x="137.30" y="563.70" width="5.00" height="5.00" fill="#000" stroke="none" stroke-width="0" />
<rect x="149.80" y="580.30" width="5.00" height="5.00" fill="#000" stroke="none" stroke-width="0" />
<rect x="161.30" y="594.00" width="5.00" height="5.00" fill="#000" stroke="none" stroke-width="0" />
<rect x="182.00" y="586.20" width="5.00" height="5.00" fill="#000" stroke="none" stroke-width="0" />
<rect x="197.10" y="556.30" width="5.00" height="5.00" fill="#000" stroke="none" stroke-width="0" />
<rect x="294.50" y="554.50" width="5.00" height="5.00" fill="#000" stroke="none" stroke-width="0" />
<line x1="198.00" y1="620.30" x2="214.20" y2="620.30" stroke="#000" stroke-width="2.0" />
<rect x="203.80" y="618.00" width="4.60" height="4.60" fill="#000" stroke="none" stroke-width="0" />
<text x="217.20" y="623.90" font-family="Liberation Sans" font-size="9.9" font-weight="normal" text-anchor="start" fill="#000" >BM+CIK (Major)</text>
<line x1="198.00" y1="633.00" x2="214.20" y2="633.00" stroke="#000" stroke-width="1.0" />
<polygon points="203.80,631.10 208.40,631.10 206.10,635.30" fill="#fff" stroke="#000" stroke-width="0.9"/>
<text x="217.20" y="636.60" font-family="Liberation Sans" font-size="9.9" font-weight="normal" text-anchor="start" fill="#000" >BM+CIK (Minor)</text>
<line x1="198.00" y1="644.30" x2="214.20" y2="644.30" stroke="#000" stroke-width="1.0" />
<rect x="203.90" y="642.10" width="4.40" height="4.40" fill="#fff" stroke="#000" stroke-width="1.0" />
<text x="217.20" y="647.90" font-family="Liberation Sans" font-size="9.9" font-weight="normal" text-anchor="start" fill="#000" >BM</text>
</svg>
</body></html>
